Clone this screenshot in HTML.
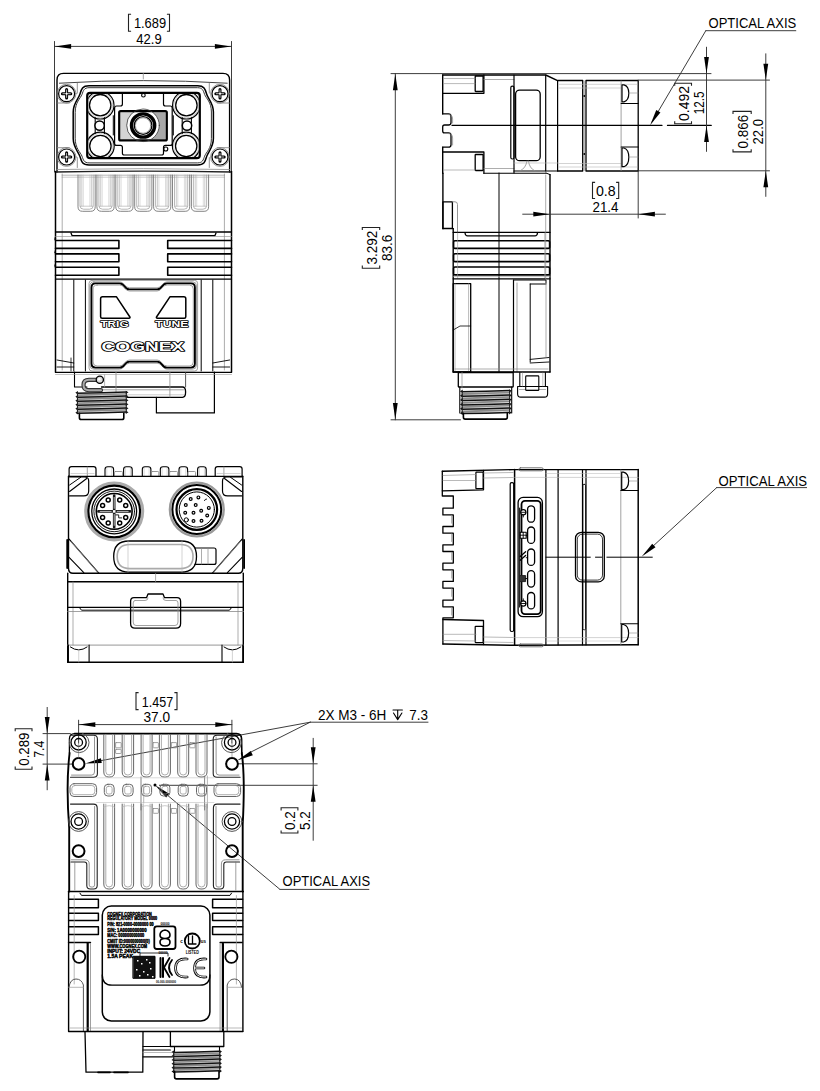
<!DOCTYPE html>
<html><head><meta charset="utf-8"><style>
html,body{margin:0;padding:0;background:#fff;}
body{width:820px;height:1091px;overflow:hidden;}
svg{display:block;font-family:"Liberation Sans",sans-serif;}
</style></head><body>
<svg width="820" height="1091" viewBox="0 0 820 1091" stroke-linecap="round" stroke-linejoin="round">
<rect width="820" height="1091" fill="#fff"/>
<line x1="54.5" y1="41.5" x2="54.5" y2="172" stroke="#333" stroke-width="0.95" />
<line x1="231.5" y1="41.5" x2="231.5" y2="172" stroke="#333" stroke-width="0.95" />
<line x1="54.5" y1="46.4" x2="231.5" y2="46.4" stroke="#333" stroke-width="0.95" />
<path d="M54.80,46.40 L71.10,44.00 L71.10,48.80 Z" fill="#000"/>
<path d="M231.20,46.40 L214.90,48.80 L214.90,44.00 Z" fill="#000"/>
<text x="150.00" y="28.40" font-size="14.8" text-anchor="middle" textLength="32.20" lengthAdjust="spacingAndGlyphs" fill="#000">1.689</text>
<path d="M131.1,14.3 L128.5,14.3 L128.5,31.3 L131.1,31.3 M166.9,14.3 L169.5,14.3 L169.5,31.3 L166.9,31.3" fill="none" stroke="#222" stroke-width="1.1" stroke-linecap="butt" stroke-linejoin="miter"/>
<text x="149.00" y="43.50" font-size="14.8" text-anchor="middle" textLength="25.40" lengthAdjust="spacingAndGlyphs" fill="#000">42.9</text>
<path d="M57,172 L57,80 Q57,73.4 63.5,73.4 L223,73.4 Q229.6,73.4 229.6,80 L229.6,172" fill="none" stroke="#000" stroke-width="1.4" />
<path d="M59.4,83.2 Q143.3,78 227.2,83.2" fill="none" stroke="#444" stroke-width="1.0" />
<line x1="143.3" y1="73.4" x2="143.3" y2="79" stroke="#8a8a8a" stroke-width="0.8" />
<path d="M55.5,172 Q143.3,170.2 231.5,172" fill="none" stroke="#222" stroke-width="1.3" />
<path d="M57,169.5 Q143.3,167.8 229.6,169.5" fill="none" stroke="#8a8a8a" stroke-width="0.8" />
<line x1="77.3" y1="83.2" x2="77.3" y2="93.10000000000001" stroke="#777" stroke-width="0.8" />
<line x1="57.199999999999996" y1="103.0" x2="69.3" y2="103.0" stroke="#777" stroke-width="0.8" />
<circle cx="66.6" cy="93.7" r="9.4" fill="none" stroke="#777" stroke-width="0.8" />
<circle cx="66.6" cy="93.7" r="8.0" fill="#fff" stroke="#000" stroke-width="1.2" />
<path d="M62.39999999999999,93.7 h8.4 M66.6,89.5 v8.4" fill="none" stroke="#000" stroke-width="3.0" />
<path d="M62.89999999999999,93.7 h7.4 M66.6,90.0 v7.4" fill="none" stroke="#fff" stroke-width="0.7" />
<circle cx="66.6" cy="93.7" r="0.9" fill="#fff" stroke="#000" stroke-width="0" />
<line x1="77.3" y1="167.5" x2="77.3" y2="157.6" stroke="#777" stroke-width="0.8" />
<line x1="57.199999999999996" y1="147.7" x2="69.3" y2="147.7" stroke="#777" stroke-width="0.8" />
<circle cx="66.6" cy="157.0" r="9.4" fill="none" stroke="#777" stroke-width="0.8" />
<circle cx="66.6" cy="157.0" r="8.0" fill="#fff" stroke="#000" stroke-width="1.2" />
<path d="M62.39999999999999,157.0 h8.4 M66.6,152.8 v8.4" fill="none" stroke="#000" stroke-width="3.0" />
<path d="M62.89999999999999,157.0 h7.4 M66.6,153.3 v7.4" fill="none" stroke="#fff" stroke-width="0.7" />
<circle cx="66.6" cy="157.0" r="0.9" fill="#fff" stroke="#000" stroke-width="0" />
<line x1="209.3" y1="83.2" x2="209.3" y2="93.10000000000001" stroke="#777" stroke-width="0.8" />
<line x1="229.4" y1="103.0" x2="217.3" y2="103.0" stroke="#777" stroke-width="0.8" />
<circle cx="220.0" cy="93.7" r="9.4" fill="none" stroke="#777" stroke-width="0.8" />
<circle cx="220.0" cy="93.7" r="8.0" fill="#fff" stroke="#000" stroke-width="1.2" />
<path d="M215.8,93.7 h8.4 M220.0,89.5 v8.4" fill="none" stroke="#000" stroke-width="3.0" />
<path d="M216.3,93.7 h7.4 M220.0,90.0 v7.4" fill="none" stroke="#fff" stroke-width="0.7" />
<circle cx="220.0" cy="93.7" r="0.9" fill="#fff" stroke="#000" stroke-width="0" />
<line x1="209.3" y1="167.5" x2="209.3" y2="157.6" stroke="#777" stroke-width="0.8" />
<line x1="229.4" y1="147.7" x2="217.3" y2="147.7" stroke="#777" stroke-width="0.8" />
<circle cx="220.0" cy="157.0" r="9.4" fill="none" stroke="#777" stroke-width="0.8" />
<circle cx="220.0" cy="157.0" r="8.0" fill="#fff" stroke="#000" stroke-width="1.2" />
<path d="M215.8,157.0 h8.4 M220.0,152.8 v8.4" fill="none" stroke="#000" stroke-width="3.0" />
<path d="M216.3,157.0 h7.4 M220.0,153.3 v7.4" fill="none" stroke="#fff" stroke-width="0.7" />
<circle cx="220.0" cy="157.0" r="0.9" fill="#fff" stroke="#000" stroke-width="0" />
<path d="M73.2,112 C73.2,103.0 78.5,99.0 80.0,94.0 C81.3,89.5 82.0,85.7 89.0,85.7 L197.6,85.7 C204.6,85.7 205.3,89.5 206.6,94.0 C208.1,99.0 213.4,103.0 213.4,112 L213.4,138.6 C213.4,147.6 208.1,151.6 206.6,156.6 C205.3,161.1 204.6,164.9 197.6,164.9 L89.0,164.9 C82.0,164.9 81.3,161.1 80.0,156.6 C78.5,151.6 73.2,147.6 73.2,138.6 Z" fill="none" stroke="#000" stroke-width="1.5" />
<path d="M75.2,112 C75.2,102.0 80.5,98.4 82.0,94.4 C83.3,90.7 84.0,87.7 89.0,87.7 L197.6,87.7 C202.6,87.7 203.3,90.7 204.6,94.4 C206.1,98.4 211.4,102.0 211.4,112 L211.4,138.6 C211.4,148.6 206.1,152.2 204.6,156.2 C203.3,159.9 202.6,162.9 197.6,162.9 L89.0,162.9 C84.0,162.9 83.3,159.9 82.0,156.2 C80.5,152.2 75.2,148.6 75.2,138.6 Z" fill="none" stroke="#333" stroke-width="1.0" />
<rect x="87.2" y="92.9" width="112.6" height="65.3" rx="3" fill="none" stroke="#000" stroke-width="2.2" />
<defs><clipPath id="win"><rect x="88.3" y="94" width="110.4" height="63.1" rx="2"/></clipPath></defs>
<g clip-path="url(#win)">
<circle cx="100.2" cy="105.2" r="13.8" fill="none" stroke="#000" stroke-width="1.2" />
<circle cx="100.2" cy="105.2" r="12.7" fill="none" stroke="#999" stroke-width="0.5" />
<circle cx="100.4" cy="146" r="13.8" fill="none" stroke="#000" stroke-width="1.2" />
<circle cx="100.4" cy="146" r="12.7" fill="none" stroke="#999" stroke-width="0.5" />
<circle cx="186.4" cy="105.2" r="13.8" fill="none" stroke="#000" stroke-width="1.2" />
<circle cx="186.4" cy="105.2" r="12.7" fill="none" stroke="#999" stroke-width="0.5" />
<circle cx="186.2" cy="146" r="13.8" fill="none" stroke="#000" stroke-width="1.2" />
<circle cx="186.2" cy="146" r="12.7" fill="none" stroke="#999" stroke-width="0.5" />
<path d="M95.2,117.5 L95.2,133.5 M104.39999999999999,117.5 L104.39999999999999,133.5" fill="none" stroke="#000" stroke-width="1.1" />
<path d="M182.20000000000002,117.5 L182.20000000000002,133.5 M191.4,117.5 L191.4,133.5" fill="none" stroke="#000" stroke-width="1.1" />
</g>
<circle cx="100.2" cy="105.2" r="10.7" fill="#fff" stroke="#000" stroke-width="1.3" />
<circle cx="100.4" cy="146" r="10.7" fill="#fff" stroke="#000" stroke-width="1.3" />
<circle cx="186.4" cy="105.2" r="10.7" fill="#fff" stroke="#000" stroke-width="1.3" />
<circle cx="186.2" cy="146" r="10.7" fill="#fff" stroke="#000" stroke-width="1.3" />
<circle cx="99.6" cy="125.6" r="4.7" fill="#fff" stroke="#000" stroke-width="1.5" />
<circle cx="187.0" cy="125.6" r="4.7" fill="#fff" stroke="#000" stroke-width="1.5" />
<line x1="113.3" y1="115.7" x2="113.3" y2="135" stroke="#000" stroke-width="1.0" />
<line x1="173.3" y1="115.7" x2="173.3" y2="135" stroke="#000" stroke-width="1.0" />
<path d="M122.4,93.7 L122.4,104 Q122.4,106 120.4,106 L116.6,106 Q114.6,106 114.6,108 L114.6,143.4 Q114.6,145.4 116.6,145.4 L120.4,145.4 Q122.4,145.4 122.4,147.4 L122.4,153.2 Q122.4,155 124.4,155 L161.5,155 Q163.5,155 163.5,153.2 L163.5,147.4 Q163.5,145.4 165.5,145.4 L170.2,145.4 Q172.2,145.4 172.2,143.4 L172.2,108 Q172.2,106 170.2,106 L165.5,106 Q163.5,106 163.5,104 L163.5,93.7" fill="none" stroke="#000" stroke-width="1.2" />
<circle cx="143.4" cy="95.2" r="1.8" fill="none" stroke="#000" stroke-width="1.1" />
<circle cx="165.8" cy="149" r="2.0" fill="none" stroke="#000" stroke-width="1.1" />
<path d="M120.3,112.2 L133.30,112.20 L130.83,114.46 L129.14,116.72 L127.98,118.98 L127.22,121.23 L126.80,123.49 L126.71,125.75 L126.93,128.01 L127.48,130.27 L128.39,132.53 L129.74,134.78 L131.69,137.04 L134.65,139.30 L120.3,139.3 Z" fill="#d4d4d4" stroke="none" stroke-width="0" />
<path d="M165.7,112.2 L152.70,112.20 L155.17,114.46 L156.86,116.72 L158.02,118.98 L158.78,121.23 L159.20,123.49 L159.29,125.75 L159.07,128.01 L158.52,130.27 L157.61,132.53 L156.26,134.78 L154.31,137.04 L151.35,139.30 L165.7,139.3 Z" fill="#a8a8a8" stroke="none" stroke-width="0" />
<rect x="119.2" y="111.1" width="47.6" height="29.3" rx="1.5" fill="none" stroke="#000" stroke-width="2.2" />
<circle cx="143" cy="125.3" r="16.3" fill="none" stroke="#333" stroke-width="0.8" />
<circle cx="143.1" cy="125.5" r="11.6" fill="none" stroke="#000" stroke-width="3.4" />
<circle cx="143.1" cy="125.5" r="8.8" fill="none" stroke="#000" stroke-width="1.3" />
<circle cx="143.1" cy="125.5" r="7.7" fill="none" stroke="#777" stroke-width="0.6" />
<line x1="62" y1="175.2" x2="224.6" y2="175.2" stroke="#999" stroke-width="0.7" />
<line x1="62" y1="177.2" x2="224.6" y2="177.2" stroke="#aaa" stroke-width="0.6" />
<path d="M78.0,175 L78.0,206.8 Q78.0,211.3 82.5,211.3 L90.69999999999999,211.3 Q95.19999999999999,211.3 95.19999999999999,206.8 L95.19999999999999,175" fill="none" stroke="#777" stroke-width="0.9" />
<path d="M80.0,175 L80.0,205.6 Q80.0,209.2 83.6,209.2 L89.6,209.2 Q93.19999999999999,209.2 93.19999999999999,205.6 L93.19999999999999,175" fill="none" stroke="#999" stroke-width="0.7" />
<line x1="81.8" y1="175" x2="81.8" y2="206" stroke="#aaa" stroke-width="0.6" />
<line x1="91.39999999999999" y1="175" x2="91.39999999999999" y2="206" stroke="#aaa" stroke-width="0.6" />
<line x1="83.3" y1="175" x2="83.3" y2="206" stroke="#bbb" stroke-width="0.5" />
<line x1="89.89999999999999" y1="175" x2="89.89999999999999" y2="206" stroke="#bbb" stroke-width="0.5" />
<line x1="80.0" y1="206.2" x2="93.19999999999999" y2="206.2" stroke="#aaa" stroke-width="0.6" />
<path d="M96.9,175 L96.9,206.8 Q96.9,211.3 101.4,211.3 L109.6,211.3 Q114.1,211.3 114.1,206.8 L114.1,175" fill="none" stroke="#777" stroke-width="0.9" />
<path d="M98.9,175 L98.9,205.6 Q98.9,209.2 102.5,209.2 L108.5,209.2 Q112.1,209.2 112.1,205.6 L112.1,175" fill="none" stroke="#999" stroke-width="0.7" />
<line x1="100.7" y1="175" x2="100.7" y2="206" stroke="#aaa" stroke-width="0.6" />
<line x1="110.3" y1="175" x2="110.3" y2="206" stroke="#aaa" stroke-width="0.6" />
<line x1="102.2" y1="175" x2="102.2" y2="206" stroke="#bbb" stroke-width="0.5" />
<line x1="108.8" y1="175" x2="108.8" y2="206" stroke="#bbb" stroke-width="0.5" />
<line x1="98.9" y1="206.2" x2="112.1" y2="206.2" stroke="#aaa" stroke-width="0.6" />
<path d="M115.80000000000001,175 L115.80000000000001,206.8 Q115.80000000000001,211.3 120.30000000000001,211.3 L128.5,211.3 Q133.0,211.3 133.0,206.8 L133.0,175" fill="none" stroke="#777" stroke-width="0.9" />
<path d="M117.80000000000001,175 L117.80000000000001,205.6 Q117.80000000000001,209.2 121.4,209.2 L127.4,209.2 Q131.0,209.2 131.0,205.6 L131.0,175" fill="none" stroke="#999" stroke-width="0.7" />
<line x1="119.60000000000001" y1="175" x2="119.60000000000001" y2="206" stroke="#aaa" stroke-width="0.6" />
<line x1="129.20000000000002" y1="175" x2="129.20000000000002" y2="206" stroke="#aaa" stroke-width="0.6" />
<line x1="121.10000000000001" y1="175" x2="121.10000000000001" y2="206" stroke="#bbb" stroke-width="0.5" />
<line x1="127.7" y1="175" x2="127.7" y2="206" stroke="#bbb" stroke-width="0.5" />
<line x1="117.80000000000001" y1="206.2" x2="131.0" y2="206.2" stroke="#aaa" stroke-width="0.6" />
<path d="M134.70000000000002,175 L134.70000000000002,206.8 Q134.70000000000002,211.3 139.20000000000002,211.3 L147.4,211.3 Q151.9,211.3 151.9,206.8 L151.9,175" fill="none" stroke="#777" stroke-width="0.9" />
<path d="M136.70000000000002,175 L136.70000000000002,205.6 Q136.70000000000002,209.2 140.3,209.2 L146.3,209.2 Q149.9,209.2 149.9,205.6 L149.9,175" fill="none" stroke="#999" stroke-width="0.7" />
<line x1="138.5" y1="175" x2="138.5" y2="206" stroke="#aaa" stroke-width="0.6" />
<line x1="148.10000000000002" y1="175" x2="148.10000000000002" y2="206" stroke="#aaa" stroke-width="0.6" />
<line x1="140.0" y1="175" x2="140.0" y2="206" stroke="#bbb" stroke-width="0.5" />
<line x1="146.60000000000002" y1="175" x2="146.60000000000002" y2="206" stroke="#bbb" stroke-width="0.5" />
<line x1="136.70000000000002" y1="206.2" x2="149.9" y2="206.2" stroke="#aaa" stroke-width="0.6" />
<path d="M153.6,175 L153.6,206.8 Q153.6,211.3 158.1,211.3 L166.29999999999998,211.3 Q170.79999999999998,211.3 170.79999999999998,206.8 L170.79999999999998,175" fill="none" stroke="#777" stroke-width="0.9" />
<path d="M155.6,175 L155.6,205.6 Q155.6,209.2 159.2,209.2 L165.2,209.2 Q168.79999999999998,209.2 168.79999999999998,205.6 L168.79999999999998,175" fill="none" stroke="#999" stroke-width="0.7" />
<line x1="157.39999999999998" y1="175" x2="157.39999999999998" y2="206" stroke="#aaa" stroke-width="0.6" />
<line x1="167.0" y1="175" x2="167.0" y2="206" stroke="#aaa" stroke-width="0.6" />
<line x1="158.89999999999998" y1="175" x2="158.89999999999998" y2="206" stroke="#bbb" stroke-width="0.5" />
<line x1="165.5" y1="175" x2="165.5" y2="206" stroke="#bbb" stroke-width="0.5" />
<line x1="155.6" y1="206.2" x2="168.79999999999998" y2="206.2" stroke="#aaa" stroke-width="0.6" />
<path d="M172.5,175 L172.5,206.8 Q172.5,211.3 177.0,211.3 L185.2,211.3 Q189.7,211.3 189.7,206.8 L189.7,175" fill="none" stroke="#777" stroke-width="0.9" />
<path d="M174.5,175 L174.5,205.6 Q174.5,209.2 178.1,209.2 L184.1,209.2 Q187.7,209.2 187.7,205.6 L187.7,175" fill="none" stroke="#999" stroke-width="0.7" />
<line x1="176.29999999999998" y1="175" x2="176.29999999999998" y2="206" stroke="#aaa" stroke-width="0.6" />
<line x1="185.9" y1="175" x2="185.9" y2="206" stroke="#aaa" stroke-width="0.6" />
<line x1="177.79999999999998" y1="175" x2="177.79999999999998" y2="206" stroke="#bbb" stroke-width="0.5" />
<line x1="184.4" y1="175" x2="184.4" y2="206" stroke="#bbb" stroke-width="0.5" />
<line x1="174.5" y1="206.2" x2="187.7" y2="206.2" stroke="#aaa" stroke-width="0.6" />
<path d="M191.4,175 L191.4,206.8 Q191.4,211.3 195.9,211.3 L204.1,211.3 Q208.6,211.3 208.6,206.8 L208.6,175" fill="none" stroke="#777" stroke-width="0.9" />
<path d="M193.4,175 L193.4,205.6 Q193.4,209.2 197.0,209.2 L203.0,209.2 Q206.6,209.2 206.6,205.6 L206.6,175" fill="none" stroke="#999" stroke-width="0.7" />
<line x1="195.2" y1="175" x2="195.2" y2="206" stroke="#aaa" stroke-width="0.6" />
<line x1="204.8" y1="175" x2="204.8" y2="206" stroke="#aaa" stroke-width="0.6" />
<line x1="196.7" y1="175" x2="196.7" y2="206" stroke="#bbb" stroke-width="0.5" />
<line x1="203.3" y1="175" x2="203.3" y2="206" stroke="#bbb" stroke-width="0.5" />
<line x1="193.4" y1="206.2" x2="206.6" y2="206.2" stroke="#aaa" stroke-width="0.6" />
<line x1="55.5" y1="171.5" x2="55.5" y2="372" stroke="#000" stroke-width="1.5" />
<line x1="231.5" y1="171.5" x2="231.5" y2="372" stroke="#000" stroke-width="1.5" />
<line x1="62.2" y1="174" x2="62.2" y2="370" stroke="#8a8a8a" stroke-width="0.7" />
<line x1="224.4" y1="174" x2="224.4" y2="370" stroke="#8a8a8a" stroke-width="0.7" />
<line x1="55.5" y1="232" x2="231.5" y2="232" stroke="#000" stroke-width="1.3" />
<path d="M71,233 L72,235.6 L215,235.6 L216,233" fill="none" stroke="#000" stroke-width="1.3" />
<path d="M55.5,240.5 L118.9,240.5 L118.9,248.4 L55.5,248.4" fill="none" stroke="#000" stroke-width="1.6" />
<path d="M231.5,240.5 L167.7,240.5 L167.7,248.4 L231.5,248.4" fill="none" stroke="#000" stroke-width="1.6" />
<path d="M55.5,239.0 Q53.5,241.45 55.5,236.5" fill="none" stroke="#000" stroke-width="0.8" />
<path d="M55.5,253.9 L118.9,253.9 L118.9,261.8 L55.5,261.8" fill="none" stroke="#000" stroke-width="1.6" />
<path d="M231.5,253.9 L167.7,253.9 L167.7,261.8 L231.5,261.8" fill="none" stroke="#000" stroke-width="1.6" />
<path d="M55.5,252.4 Q53.5,254.85000000000002 55.5,249.9" fill="none" stroke="#000" stroke-width="0.8" />
<path d="M55.5,267.3 L118.9,267.3 L118.9,275.2 L55.5,275.2" fill="none" stroke="#000" stroke-width="1.6" />
<path d="M231.5,267.3 L167.7,267.3 L167.7,275.2 L231.5,275.2" fill="none" stroke="#000" stroke-width="1.6" />
<path d="M55.5,265.8 Q53.5,268.25 55.5,263.3" fill="none" stroke="#000" stroke-width="0.8" />
<line x1="55.5" y1="279.1" x2="231.5" y2="279.1" stroke="#000" stroke-width="1.4" />
<line x1="55.5" y1="236.5" x2="231.5" y2="236.5" stroke="#8a8a8a" stroke-width="0.6" />
<line x1="73.8" y1="280" x2="73.8" y2="371" stroke="#000" stroke-width="1.0" />
<line x1="212.8" y1="280" x2="212.8" y2="371" stroke="#000" stroke-width="1.0" />
<line x1="85.4" y1="280" x2="85.4" y2="371" stroke="#000" stroke-width="1.0" />
<line x1="201.2" y1="280" x2="201.2" y2="371" stroke="#000" stroke-width="1.0" />
<line x1="71" y1="358" x2="71" y2="371" stroke="#000" stroke-width="0.8" />
<path d="M57,360 L73.8,363 M57,367 L73.8,367" fill="none" stroke="#000" stroke-width="0.9" />
<path d="M229.6,360 L212.8,363 M229.6,367 L212.8,367" fill="none" stroke="#000" stroke-width="0.9" />
<path d="M92,280.4 L194.6,280.4 Q197.6,280.4 197.6,283.4 L197.6,368 Q197.6,371 194.6,371 L92,371 Q89,371 89,368 L89,283.4 Q89,280.4 92,280.4 Z" fill="none" stroke="#8a8a8a" stroke-width="0.8" />
<path d="M93.9,281.79999999999995 L119.5,281.79999999999995 Q122.5,281.79999999999995 124.5,284.79999999999995 Q126.5,287.79999999999995 129.5,287.79999999999995 L157.1,287.79999999999995 Q160.1,287.79999999999995 162.1,284.79999999999995 Q164.1,281.79999999999995 167.1,281.79999999999995 L192.5,281.79999999999995 Q196.5,281.79999999999995 196.5,285.79999999999995 L196.5,365.20000000000005 Q196.5,369.20000000000005 192.5,369.20000000000005 L167.1,369.20000000000005 Q164.1,369.20000000000005 162.1,366.20000000000005 Q160.1,363.20000000000005 157.1,363.20000000000005 L129.5,363.20000000000005 Q126.5,363.20000000000005 124.5,366.20000000000005 Q122.5,369.20000000000005 119.5,369.20000000000005 L93.9,369.20000000000005 Q89.9,369.20000000000005 89.9,365.20000000000005 L89.9,285.79999999999995 Q89.9,281.79999999999995 93.9,281.79999999999995 Z" fill="none" stroke="#8a8a8a" stroke-width="0.8" />
<path d="M95.5,283.4 L119.5,283.4 Q122.5,283.4 124.5,286.4 Q126.5,289.4 129.5,289.4 L157.1,289.4 Q160.1,289.4 162.1,286.4 Q164.1,283.4 167.1,283.4 L190.9,283.4 Q194.9,283.4 194.9,287.4 L194.9,363.6 Q194.9,367.6 190.9,367.6 L167.1,367.6 Q164.1,367.6 162.1,364.6 Q160.1,361.6 157.1,361.6 L129.5,361.6 Q126.5,361.6 124.5,364.6 Q122.5,367.6 119.5,367.6 L95.5,367.6 Q91.5,367.6 91.5,363.6 L91.5,287.4 Q91.5,283.4 95.5,283.4 Z" fill="none" stroke="#000" stroke-width="1.9" />
<path d="M97.1,285.0 L119.5,285.0 Q122.5,285.0 124.5,288.0 Q126.5,291.0 129.5,291.0 L157.1,291.0 Q160.1,291.0 162.1,288.0 Q164.1,285.0 167.1,285.0 L189.3,285.0 Q193.3,285.0 193.3,289.0 L193.3,362.0 Q193.3,366.0 189.3,366.0 L167.1,366.0 Q164.1,366.0 162.1,363.0 Q160.1,360.0 157.1,360.0 L129.5,360.0 Q126.5,360.0 124.5,363.0 Q122.5,366.0 119.5,366.0 L97.1,366.0 Q93.1,366.0 93.1,362.0 L93.1,289.0 Q93.1,285.0 97.1,285.0 Z" fill="none" stroke="#8a8a8a" stroke-width="0.8" />
<path d="M102.6,296.8 L116.5,296.8 L129.9,317 Q130.4,318.2 129,318.2 L102.1,318.2 Q100.6,318.2 100.6,316.7 L100.6,298.8 Q100.6,296.8 102.6,296.8 Z" fill="none" stroke="#000" stroke-width="1.5" />
<path d="M183.8,296.8 L169.9,296.8 L156.5,317 Q156,318.2 157.4,318.2 L184.3,318.2 Q185.8,318.2 185.8,316.7 L185.8,298.8 Q185.8,296.8 183.8,296.8 Z" fill="none" stroke="#000" stroke-width="1.5" />
<g font-family="Liberation Sans, sans-serif" fill="#000" stroke="#000" stroke-width="1.5">
<text x="114.5" y="327.2" font-size="9.0" text-anchor="middle" font-weight="bold" textLength="28.2" lengthAdjust="spacingAndGlyphs" >TRIG</text>
<text x="171.8" y="327.2" font-size="9.0" text-anchor="middle" font-weight="bold" textLength="33.1" lengthAdjust="spacingAndGlyphs" >TUNE</text>
<text x="142.85" y="350.6" font-size="13.2" text-anchor="middle" font-weight="bold" textLength="82.5" lengthAdjust="spacingAndGlyphs" stroke-width="1.7">COGNEX</text>
</g>
<g font-family="Liberation Sans, sans-serif" fill="#fff" stroke="none">
<text x="114.5" y="327.2" font-size="9.0" text-anchor="middle" font-weight="bold" textLength="28.2" lengthAdjust="spacingAndGlyphs" >TRIG</text>
<text x="171.8" y="327.2" font-size="9.0" text-anchor="middle" font-weight="bold" textLength="33.1" lengthAdjust="spacingAndGlyphs" >TUNE</text>
<text x="142.85" y="350.6" font-size="13.2" text-anchor="middle" font-weight="bold" textLength="82.5" lengthAdjust="spacingAndGlyphs" >COGNEX</text>
</g>
<line x1="55.5" y1="372.4" x2="231.5" y2="372.4" stroke="#000" stroke-width="1.3" />
<path d="M74.5,372 L74.5,387 L87,387" fill="none" stroke="#000" stroke-width="1.1" />
<path d="M101.5,387 L182.5,387 Q185.6,387 185.6,392 Q185.6,397.3 182.5,397.3 L101.5,397.3" fill="none" stroke="#000" stroke-width="1.3" />
<line x1="101.5" y1="389.8" x2="183.5" y2="389.8" stroke="#888" stroke-width="0.8" />
<line x1="101.5" y1="394.8" x2="183.5" y2="394.8" stroke="#aaa" stroke-width="0.6" />
<line x1="116" y1="372" x2="116" y2="397" stroke="#8a8a8a" stroke-width="0.8" />
<line x1="169.9" y1="372" x2="169.9" y2="397" stroke="#8a8a8a" stroke-width="0.8" />
<path d="M156.4,397.3 L156.4,412.9 L214.4,412.9 L214.4,372" fill="none" stroke="#000" stroke-width="1.2" />
<line x1="185.6" y1="372.8" x2="185.6" y2="387" stroke="#555" stroke-width="1.0" />
<line x1="55.5" y1="374.5" x2="231.5" y2="374.5" stroke="#999" stroke-width="0.6" />
<line x1="104.6" y1="375" x2="104.6" y2="387" stroke="#999" stroke-width="0.7" />
<path d="M99.5,379.8 L89,379.8 Q83.5,379.8 83.5,385 Q83.5,390.2 89,390.2 L101,390.2" fill="none" stroke="#333" stroke-width="4.2" />
<path d="M99.5,379.8 L89,379.8 Q83.5,379.8 83.5,385 Q83.5,390.2 89,390.2 L101,390.2" fill="none" stroke="#aaa" stroke-width="2.0" />
<circle cx="99.8" cy="379.8" r="3.6" fill="#ddd" stroke="#000" stroke-width="1.3" />
<circle cx="99.3" cy="379.3" r="1.2" fill="#fff" stroke="#000" stroke-width="0" />
<path d="M79.4,412.8 L79.4,417.7 Q79.4,419.5 81.2,419.5 L122,419.5 Q123.8,419.5 123.8,417.7 L123.8,412.8" fill="none" stroke="#000" stroke-width="1.6" />
<rect x="77.5" y="392.6" width="48.80" height="20.00" fill="#d8d8d8"/>
<path d="M77.5,395.20 Q101.90,394.40 126.3,393.60" fill="none" stroke="#8a8a8a" stroke-width="1.8" />
<path d="M77.5,393.80 Q101.90,393.20 126.3,392.80" fill="none" stroke="#f0f0f0" stroke-width="0.7" />
<path d="M77.5,399.20 Q101.90,398.40 126.3,397.60" fill="none" stroke="#8a8a8a" stroke-width="1.8" />
<path d="M77.5,397.80 Q101.90,397.20 126.3,396.80" fill="none" stroke="#f0f0f0" stroke-width="0.7" />
<path d="M77.5,403.20 Q101.90,402.40 126.3,401.60" fill="none" stroke="#8a8a8a" stroke-width="1.8" />
<path d="M77.5,401.80 Q101.90,401.20 126.3,400.80" fill="none" stroke="#f0f0f0" stroke-width="0.7" />
<path d="M77.5,407.20 Q101.90,406.40 126.3,405.60" fill="none" stroke="#8a8a8a" stroke-width="1.8" />
<path d="M77.5,405.80 Q101.90,405.20 126.3,404.80" fill="none" stroke="#f0f0f0" stroke-width="0.7" />
<path d="M77.5,411.20 Q101.90,410.40 126.3,409.60" fill="none" stroke="#8a8a8a" stroke-width="1.8" />
<path d="M77.5,409.80 Q101.90,409.20 126.3,408.80" fill="none" stroke="#f0f0f0" stroke-width="0.7" />
<path d="M77.5,393.20 Q101.90,392.90 126.3,392.00" fill="none" stroke="#111" stroke-width="1.5" />
<path d="M78.0,390.90 L75.3,392.80 L78.0,394.50 Z M125.8,390.70 L128.5,392.20 L125.8,394.10 Z" fill="#111"/>
<path d="M77.5,397.20 Q101.90,396.90 126.3,396.00" fill="none" stroke="#111" stroke-width="1.5" />
<path d="M78.0,394.90 L75.3,396.80 L78.0,398.50 Z M125.8,394.70 L128.5,396.20 L125.8,398.10 Z" fill="#111"/>
<path d="M77.5,401.20 Q101.90,400.90 126.3,400.00" fill="none" stroke="#111" stroke-width="1.5" />
<path d="M78.0,398.90 L75.3,400.80 L78.0,402.50 Z M125.8,398.70 L128.5,400.20 L125.8,402.10 Z" fill="#111"/>
<path d="M77.5,405.20 Q101.90,404.90 126.3,404.00" fill="none" stroke="#111" stroke-width="1.5" />
<path d="M78.0,402.90 L75.3,404.80 L78.0,406.50 Z M125.8,402.70 L128.5,404.20 L125.8,406.10 Z" fill="#111"/>
<path d="M77.5,409.20 Q101.90,408.90 126.3,408.00" fill="none" stroke="#111" stroke-width="1.5" />
<path d="M78.0,406.90 L75.3,408.80 L78.0,410.50 Z M125.8,406.70 L128.5,408.20 L125.8,410.10 Z" fill="#111"/>
<path d="M77.5,413.20 Q101.90,412.90 126.3,412.00" fill="none" stroke="#111" stroke-width="1.5" />
<path d="M78.0,410.90 L75.3,412.80 L78.0,414.50 Z M125.8,410.70 L128.5,412.20 L125.8,414.10 Z" fill="#111"/>
<line x1="77.5" y1="392.6" x2="77.5" y2="412.6" stroke="#222" stroke-width="1.0" />
<line x1="126.3" y1="392.6" x2="126.3" y2="412.6" stroke="#222" stroke-width="1.0" />
<line x1="391" y1="73.6" x2="711" y2="73.6" stroke="#333" stroke-width="0.95" />
<line x1="395.3" y1="73.6" x2="395.3" y2="419.8" stroke="#333" stroke-width="0.95" />
<path d="M395.30,74.00 L397.70,90.30 L392.90,90.30 Z" fill="#000"/>
<path d="M395.30,419.40 L392.90,403.10 L397.70,403.10 Z" fill="#000"/>
<line x1="391" y1="419.8" x2="460.5" y2="419.8" stroke="#333" stroke-width="0.95" />
<text x="377.00" y="247.65" font-size="14.8" text-anchor="middle" textLength="33.90" lengthAdjust="spacingAndGlyphs" transform="rotate(-90 377.00 247.65)" fill="#000">3.292</text>
<path d="M362.3,265.59999999999997 L362.3,268.2 L379.7,268.2 L379.7,265.59999999999997 M362.3,230.1 L362.3,227.5 L379.7,227.5 L379.7,230.1" fill="none" stroke="#222" stroke-width="1.1" stroke-linecap="butt" stroke-linejoin="miter"/>
<text x="392.50" y="247.90" font-size="14.8" text-anchor="middle" textLength="26.20" lengthAdjust="spacingAndGlyphs" transform="rotate(-90 392.50 247.90)" fill="#000">83.6</text>
<path d="M442.7,75 L545.7,75 L557.6,80.6" fill="none" stroke="#000" stroke-width="1.4" />
<line x1="442.7" y1="75" x2="442.7" y2="113.9" stroke="#000" stroke-width="1.4" />
<path d="M442.7,113.9 L448.5,113.9 Q451,113.9 451,116.5 L451,122.5 Q451,125 448.5,125 L444.5,125 Q442.7,125 442.7,127 L442.7,131 Q442.7,132.9 444.5,132.9 L448.5,132.9 Q451,132.9 451,135.5 L451,144.7 Q451,147.2 448.5,147.2 L442.7,147.2" fill="none" stroke="#000" stroke-width="1.3" />
<path d="M444,114.5 L448,114.5 Q452.6,114.5 452.6,119 L452.6,123" fill="none" stroke="#8a8a8a" stroke-width="0.8" />
<path d="M444,133.5 L448,133.5 Q452.6,133.5 452.6,138 L452.6,145" fill="none" stroke="#8a8a8a" stroke-width="0.8" />
<line x1="442.7" y1="147.2" x2="442.7" y2="173.3" stroke="#000" stroke-width="1.4" />
<path d="M442.7,93.3 L483.9,93.3 L483.9,75" fill="none" stroke="#000" stroke-width="1.3" />
<rect x="475.2" y="76" width="7.9" height="15.5" rx="0.5" fill="none" stroke="#000" stroke-width="1.3" />
<line x1="444" y1="78.5" x2="475" y2="78.5" stroke="#8a8a8a" stroke-width="0.6" />
<line x1="444" y1="83.6" x2="475" y2="83.6" stroke="#8a8a8a" stroke-width="0.6" />
<path d="M442.7,152 L483.9,152 L483.9,173.3" fill="none" stroke="#000" stroke-width="1.3" />
<rect x="475.2" y="154.5" width="7.9" height="16.0" rx="0.5" fill="none" stroke="#000" stroke-width="1.3" />
<line x1="444" y1="170" x2="475" y2="170" stroke="#8a8a8a" stroke-width="0.6" />
<line x1="484" y1="79.5" x2="514" y2="79.5" stroke="#8a8a8a" stroke-width="0.7" />
<line x1="484" y1="168.5" x2="514" y2="168.5" stroke="#8a8a8a" stroke-width="0.7" />
<rect x="510.8" y="86.2" width="3.2" height="72.8" rx="1.5" fill="none" stroke="#000" stroke-width="1.2" />
<line x1="514" y1="75" x2="514" y2="173" stroke="#000" stroke-width="1.2" />
<rect x="515.6" y="90.1" width="24.6" height="70.6" rx="4" fill="none" stroke="#000" stroke-width="1.3" />
<line x1="545.7" y1="75" x2="545.7" y2="171" stroke="#000" stroke-width="1.2" />
<line x1="557.6" y1="80.6" x2="557.6" y2="171" stroke="#000" stroke-width="1.2" />
<line x1="514" y1="171" x2="557.6" y2="171" stroke="#000" stroke-width="1.1" />
<path d="M520,171 Q526,168 527,161 M535,171 Q529,168 528.5,161" fill="none" stroke="#8a8a8a" stroke-width="0.8" />
<line x1="514" y1="163" x2="557.6" y2="163" stroke="#b5b5b5" stroke-width="0.6" />
<path d="M557.9,80.5 L582.7,80.5 L582.7,171 L557.9,171" fill="none" stroke="#000" stroke-width="1.3" />
<path d="M586,80.5 L638.2,80.5 L638.2,171 L586,171 Z" fill="none" stroke="#000" stroke-width="1.3" />
<line x1="584.3" y1="81" x2="584.3" y2="170.5" stroke="#8a8a8a" stroke-width="0.7" />
<circle cx="584.3" cy="96" r="0.9" fill="#000" stroke="#000" stroke-width="0" />
<circle cx="584.3" cy="154" r="0.9" fill="#000" stroke="#000" stroke-width="0" />
<line x1="559" y1="84.3" x2="637" y2="84.3" stroke="#b5b5b5" stroke-width="0.6" />
<line x1="559" y1="88" x2="621" y2="88" stroke="#b5b5b5" stroke-width="0.6" />
<line x1="559" y1="167" x2="637" y2="167" stroke="#b5b5b5" stroke-width="0.6" />
<line x1="559" y1="163.5" x2="621" y2="163.5" stroke="#b5b5b5" stroke-width="0.6" />
<line x1="621.1" y1="81" x2="621.1" y2="170.5" stroke="#8a8a8a" stroke-width="0.8" />
<path d="M622,84.8 L624,84.8 Q628.8,86 628.8,93.3 Q628.8,100.6 624,101.8 L622,101.8 Z" fill="none" stroke="#000" stroke-width="1.2" />
<path d="M622,148 L624,148 Q628.8,149.5 628.8,157.3 Q628.8,165.2 624,166.7 L622,166.7 Z" fill="none" stroke="#000" stroke-width="1.2" />
<line x1="621.1" y1="103.5" x2="638.2" y2="103.5" stroke="#000" stroke-width="1.1" />
<line x1="621.1" y1="147" x2="638.2" y2="147" stroke="#000" stroke-width="1.1" />
<line x1="629" y1="93" x2="638" y2="93" stroke="#8a8a8a" stroke-width="0.6" />
<line x1="629" y1="157" x2="638" y2="157" stroke="#8a8a8a" stroke-width="0.6" />
<line x1="452" y1="125.4" x2="662" y2="125.4" stroke="#000" stroke-width="1.1" />
<line x1="667.4" y1="125.4" x2="711.3" y2="125.4" stroke="#000" stroke-width="1.1" />
<line x1="638.2" y1="80.1" x2="769.5" y2="80.1" stroke="#333" stroke-width="0.95" />
<line x1="638.2" y1="170.8" x2="769.5" y2="170.8" stroke="#333" stroke-width="0.95" />
<line x1="706.5" y1="47.2" x2="706.5" y2="151.4" stroke="#333" stroke-width="0.95" />
<path d="M706.50,73.40 L704.10,57.10 L708.90,57.10 Z" fill="#000"/>
<path d="M706.50,125.60 L708.90,141.90 L704.10,141.90 Z" fill="#000"/>
<text x="688.80" y="103.45" font-size="14.8" text-anchor="middle" textLength="34.90" lengthAdjust="spacingAndGlyphs" transform="rotate(-90 688.80 103.45)" fill="#000">0.492</text>
<path d="M674.7,121.2 L674.7,123.8 L691.5,123.8 L691.5,121.2 M674.7,85.8 L674.7,83.2 L691.5,83.2 L691.5,85.8" fill="none" stroke="#222" stroke-width="1.1" stroke-linecap="butt" stroke-linejoin="miter"/>
<text x="704.20" y="102.80" font-size="14.8" text-anchor="middle" textLength="22.80" lengthAdjust="spacingAndGlyphs" transform="rotate(-90 704.20 102.80)" fill="#000">12.5</text>
<line x1="765.8" y1="53.8" x2="765.8" y2="196.4" stroke="#333" stroke-width="0.95" />
<path d="M765.80,80.00 L763.40,63.70 L768.20,63.70 Z" fill="#000"/>
<path d="M765.80,171.00 L768.20,187.30 L763.40,187.30 Z" fill="#000"/>
<text x="747.80" y="131.65" font-size="14.8" text-anchor="middle" textLength="33.50" lengthAdjust="spacingAndGlyphs" transform="rotate(-90 747.80 131.65)" fill="#000">0.866</text>
<path d="M733,149.3 L733,151.9 L751.2,151.9 L751.2,149.3 M733,114.0 L733,111.4 L751.2,111.4 L751.2,114.0" fill="none" stroke="#222" stroke-width="1.1" stroke-linecap="butt" stroke-linejoin="miter"/>
<text x="763.20" y="131.65" font-size="14.8" text-anchor="middle" textLength="25.50" lengthAdjust="spacingAndGlyphs" transform="rotate(-90 763.20 131.65)" fill="#000">22.0</text>
<text x="752.40" y="28.10" font-size="14.4" text-anchor="middle" textLength="87.80" lengthAdjust="spacingAndGlyphs" fill="#000">OPTICAL AXIS</text>
<line x1="705.8" y1="30.7" x2="795.8" y2="30.7" stroke="#333" stroke-width="0.95" />
<line x1="705.8" y1="30.7" x2="652" y2="122" stroke="#333" stroke-width="0.95" />
<path d="M650.10,125.30 L656.28,110.03 L660.42,112.46 Z" fill="#000"/>
<line x1="442.9" y1="173.3" x2="442.9" y2="228.8" stroke="#000" stroke-width="1.4" />
<rect x="442.9" y="201.8" width="9.5" height="26.6" rx="0" fill="none" stroke="#000" stroke-width="1.3" />
<path d="M452.4,201.8 L455,201.8 Q457.5,201.8 457.5,204.5 L457.5,232" fill="none" stroke="#8a8a8a" stroke-width="0.9" />
<line x1="442.9" y1="228.6" x2="453.2" y2="228.6" stroke="#000" stroke-width="1.3" />
<line x1="453.2" y1="228.6" x2="453.2" y2="372" stroke="#000" stroke-width="1.4" />
<line x1="550" y1="174.6" x2="550" y2="372" stroke="#000" stroke-width="1.4" />
<line x1="546" y1="173" x2="550" y2="174.6" stroke="#000" stroke-width="1.0" />
<line x1="499" y1="173" x2="499" y2="372" stroke="#000" stroke-width="1.0" />
<line x1="483.9" y1="173.3" x2="546" y2="173.3" stroke="#000" stroke-width="1.1" />
<line x1="453.2" y1="232.4" x2="550" y2="232.4" stroke="#000" stroke-width="1.3" />
<path d="M464.9,232.6 Q465.4,235.9 467.5,235.9 L535,235.9 Q537.2,235.9 537.6,232.6" fill="none" stroke="#000" stroke-width="1.2" />
<rect x="453.6" y="240.8" width="96.0" height="7.6" rx="1.2" fill="none" stroke="#000" stroke-width="1.6" />
<rect x="453.6" y="253.7" width="96.0" height="7.9" rx="1.2" fill="none" stroke="#000" stroke-width="1.6" />
<rect x="453.6" y="267" width="96.0" height="7.9" rx="1.2" fill="none" stroke="#000" stroke-width="1.6" />
<line x1="457.6" y1="233" x2="457.6" y2="278" stroke="#999" stroke-width="0.6" />
<line x1="544.7" y1="233" x2="544.7" y2="278" stroke="#999" stroke-width="0.6" />
<line x1="453.2" y1="276.6" x2="550" y2="276.6" stroke="#999" stroke-width="0.6" />
<line x1="453.2" y1="278.8" x2="550" y2="278.8" stroke="#000" stroke-width="1.3" />
<rect x="453.2" y="283.7" width="17.5" height="88.3" rx="0" fill="none" stroke="#000" stroke-width="1.3" />
<path d="M455,283.7 L455,372 M468.6,283.7 L468.6,372" fill="none" stroke="#8a8a8a" stroke-width="0.6" />
<path d="M453.2,330 L460,326 L470.7,326" fill="none" stroke="#000" stroke-width="0.8" />
<line x1="513.5" y1="280" x2="513.5" y2="372" stroke="#000" stroke-width="1.2" />
<line x1="517" y1="283" x2="517" y2="372" stroke="#8a8a8a" stroke-width="0.8" />
<line x1="530.2" y1="284" x2="530.2" y2="362" stroke="#000" stroke-width="1.0" />
<path d="M513.5,280 L546,280 L546,283 M530.2,284 L546,284" fill="none" stroke="#000" stroke-width="1.0" />
<path d="M530.2,359.4 L549,357.5 M530.2,363 L549,362" fill="none" stroke="#000" stroke-width="0.9" />
<line x1="546" y1="283" x2="546" y2="357" stroke="#8a8a8a" stroke-width="0.7" />
<line x1="545.7" y1="175" x2="545.7" y2="279" stroke="#8a8a8a" stroke-width="0.7" />
<line x1="453.2" y1="372" x2="550" y2="372" stroke="#000" stroke-width="1.4" />
<line x1="455" y1="369" x2="548" y2="369" stroke="#8a8a8a" stroke-width="0.7" />
<rect x="458.3" y="372.5" width="54.9" height="14.5" rx="0.5" fill="none" stroke="#000" stroke-width="1.3" />
<line x1="462" y1="372.5" x2="462" y2="388" stroke="#8a8a8a" stroke-width="0.7" />
<rect x="462.2" y="391.2" width="47.40" height="21.80" fill="#d8d8d8"/>
<path d="M462.2,394.03 Q485.90,393.16 509.6,392.29" fill="none" stroke="#8a8a8a" stroke-width="1.962000000000001" />
<path d="M462.2,392.51 Q485.90,391.85 509.6,391.42" fill="none" stroke="#f0f0f0" stroke-width="0.7" />
<path d="M462.2,398.39 Q485.90,397.52 509.6,396.65" fill="none" stroke="#8a8a8a" stroke-width="1.962000000000001" />
<path d="M462.2,396.87 Q485.90,396.21 509.6,395.78" fill="none" stroke="#f0f0f0" stroke-width="0.7" />
<path d="M462.2,402.75 Q485.90,401.88 509.6,401.01" fill="none" stroke="#8a8a8a" stroke-width="1.962000000000001" />
<path d="M462.2,401.23 Q485.90,400.57 509.6,400.14" fill="none" stroke="#f0f0f0" stroke-width="0.7" />
<path d="M462.2,407.11 Q485.90,406.24 509.6,405.37" fill="none" stroke="#8a8a8a" stroke-width="1.962000000000001" />
<path d="M462.2,405.59 Q485.90,404.93 509.6,404.50" fill="none" stroke="#f0f0f0" stroke-width="0.7" />
<path d="M462.2,411.47 Q485.90,410.60 509.6,409.73" fill="none" stroke="#8a8a8a" stroke-width="1.962000000000001" />
<path d="M462.2,409.95 Q485.90,409.29 509.6,408.86" fill="none" stroke="#f0f0f0" stroke-width="0.7" />
<path d="M462.2,391.80 Q485.90,391.50 509.6,390.60" fill="none" stroke="#111" stroke-width="1.5" />
<path d="M462.7,389.50 L460.0,391.40 L462.7,393.10 Z M509.1,389.30 L511.8,390.80 L509.1,392.70 Z" fill="#111"/>
<path d="M462.2,396.16 Q485.90,395.86 509.6,394.96" fill="none" stroke="#111" stroke-width="1.5" />
<path d="M462.7,393.86 L460.0,395.76 L462.7,397.46 Z M509.1,393.66 L511.8,395.16 L509.1,397.06 Z" fill="#111"/>
<path d="M462.2,400.52 Q485.90,400.22 509.6,399.32" fill="none" stroke="#111" stroke-width="1.5" />
<path d="M462.7,398.22 L460.0,400.12 L462.7,401.82 Z M509.1,398.02 L511.8,399.52 L509.1,401.42 Z" fill="#111"/>
<path d="M462.2,404.88 Q485.90,404.58 509.6,403.68" fill="none" stroke="#111" stroke-width="1.5" />
<path d="M462.7,402.58 L460.0,404.48 L462.7,406.18 Z M509.1,402.38 L511.8,403.88 L509.1,405.78 Z" fill="#111"/>
<path d="M462.2,409.24 Q485.90,408.94 509.6,408.04" fill="none" stroke="#111" stroke-width="1.5" />
<path d="M462.7,406.94 L460.0,408.84 L462.7,410.54 Z M509.1,406.74 L511.8,408.24 L509.1,410.14 Z" fill="#111"/>
<path d="M462.2,413.60 Q485.90,413.30 509.6,412.40" fill="none" stroke="#111" stroke-width="1.5" />
<path d="M462.7,411.30 L460.0,413.20 L462.7,414.90 Z M509.1,411.10 L511.8,412.60 L509.1,414.50 Z" fill="#111"/>
<line x1="462.2" y1="391.2" x2="462.2" y2="413.0" stroke="#222" stroke-width="1.0" />
<line x1="509.6" y1="391.2" x2="509.6" y2="413.0" stroke="#222" stroke-width="1.0" />
<path d="M459.8,387 L459.8,413 M511.7,387 L511.7,413" fill="none" stroke="#000" stroke-width="1.1" />
<path d="M463.4,413.2 L463.4,417.3 Q463.4,419.1 465.2,419.1 L505.5,419.1 Q507.3,419.1 507.3,417.3 L507.3,413.2" fill="none" stroke="#000" stroke-width="1.6" />
<path d="M519.8,372.5 L519.8,386.5 M545.4,372.5 L545.4,386.5" fill="none" stroke="#000" stroke-width="1.1" />
<path d="M517.6,386.5 L547.6,386.5 L547.6,394 Q547.6,397.1 544.5,397.1 L520.7,397.1 Q517.6,397.1 517.6,394 Z" fill="none" stroke="#000" stroke-width="1.1" />
<line x1="519.5" y1="389.5" x2="545.5" y2="389.5" stroke="#888" stroke-width="0.7" />
<rect x="525.7" y="375.9" width="13.1" height="14.6" rx="0.8" fill="none" stroke="#000" stroke-width="1.1" />
<line x1="522.5" y1="373" x2="522.5" y2="386" stroke="#999" stroke-width="0.6" />
<line x1="542.8" y1="373" x2="542.8" y2="386" stroke="#999" stroke-width="0.6" />
<line x1="638.2" y1="171" x2="638.2" y2="218" stroke="#333" stroke-width="0.95" />
<line x1="522.7" y1="214.2" x2="665.4" y2="214.2" stroke="#333" stroke-width="0.95" />
<path d="M549.60,214.20 L533.30,216.60 L533.30,211.80 Z" fill="#000"/>
<path d="M638.60,214.20 L654.90,211.80 L654.90,216.60 Z" fill="#000"/>
<text x="605.75" y="196.30" font-size="14.8" text-anchor="middle" textLength="19.70" lengthAdjust="spacingAndGlyphs" fill="#000">0.8</text>
<path d="M595.1,182.4 L592.5,182.4 L592.5,198.5 L595.1,198.5 M616.1,182.4 L618.7,182.4 L618.7,198.5 L616.1,198.5" fill="none" stroke="#222" stroke-width="1.1" stroke-linecap="butt" stroke-linejoin="miter"/>
<text x="605.50" y="211.70" font-size="14.8" text-anchor="middle" textLength="26.00" lengthAdjust="spacingAndGlyphs" fill="#000">21.4</text>
<path d="M69.1,476.3 L69.1,469 Q69.1,466.6 71.5,466.6 L93.6,466.6 Q96,466.6 96,469 L96,476.3" fill="none" stroke="#000" stroke-width="1.2" />
<line x1="87.3" y1="467" x2="87.3" y2="476" stroke="#8a8a8a" stroke-width="0.8" />
<path d="M242.1,476.3 L242.1,469 Q242.1,466.6 239.7,466.6 L217.6,466.6 Q215.2,466.6 215.2,469 L215.2,476.3" fill="none" stroke="#000" stroke-width="1.2" />
<line x1="223.9" y1="467" x2="223.9" y2="476" stroke="#8a8a8a" stroke-width="0.8" />
<line x1="71" y1="473.5" x2="94" y2="473.5" stroke="#b5b5b5" stroke-width="0.6" />
<line x1="240.2" y1="473.5" x2="217.2" y2="473.5" stroke="#b5b5b5" stroke-width="0.6" />
<path d="M105.0,476.3 L105.0,469.5 Q105.0,466.8 107.7,466.8 L110.89999999999999,466.8 Q113.6,466.8 113.6,469.5 L113.6,476.3" fill="none" stroke="#000" stroke-width="1.1" />
<line x1="106.8" y1="468" x2="106.8" y2="476" stroke="#b5b5b5" stroke-width="0.5" />
<line x1="111.8" y1="468" x2="111.8" y2="476" stroke="#b5b5b5" stroke-width="0.5" />
<path d="M123.60000000000001,476.3 L123.60000000000001,469.5 Q123.60000000000001,466.8 126.30000000000001,466.8 L129.5,466.8 Q132.20000000000002,466.8 132.20000000000002,469.5 L132.20000000000002,476.3" fill="none" stroke="#000" stroke-width="1.1" />
<line x1="125.4" y1="468" x2="125.4" y2="476" stroke="#b5b5b5" stroke-width="0.5" />
<line x1="130.4" y1="468" x2="130.4" y2="476" stroke="#b5b5b5" stroke-width="0.5" />
<path d="M142.29999999999998,476.3 L142.29999999999998,469.5 Q142.29999999999998,466.8 145.0,466.8 L148.2,466.8 Q150.9,466.8 150.9,469.5 L150.9,476.3" fill="none" stroke="#000" stroke-width="1.1" />
<line x1="144.1" y1="468" x2="144.1" y2="476" stroke="#b5b5b5" stroke-width="0.5" />
<line x1="149.1" y1="468" x2="149.1" y2="476" stroke="#b5b5b5" stroke-width="0.5" />
<path d="M160.29999999999998,476.3 L160.29999999999998,469.5 Q160.29999999999998,466.8 163.0,466.8 L166.2,466.8 Q168.9,466.8 168.9,469.5 L168.9,476.3" fill="none" stroke="#000" stroke-width="1.1" />
<line x1="162.1" y1="468" x2="162.1" y2="476" stroke="#b5b5b5" stroke-width="0.5" />
<line x1="167.1" y1="468" x2="167.1" y2="476" stroke="#b5b5b5" stroke-width="0.5" />
<path d="M179.0,476.3 L179.0,469.5 Q179.0,466.8 181.70000000000002,466.8 L184.9,466.8 Q187.60000000000002,466.8 187.60000000000002,469.5 L187.60000000000002,476.3" fill="none" stroke="#000" stroke-width="1.1" />
<line x1="180.8" y1="468" x2="180.8" y2="476" stroke="#b5b5b5" stroke-width="0.5" />
<line x1="185.8" y1="468" x2="185.8" y2="476" stroke="#b5b5b5" stroke-width="0.5" />
<path d="M197.6,476.3 L197.6,469.5 Q197.6,466.8 200.3,466.8 L203.5,466.8 Q206.20000000000002,466.8 206.20000000000002,469.5 L206.20000000000002,476.3" fill="none" stroke="#000" stroke-width="1.1" />
<line x1="199.4" y1="468" x2="199.4" y2="476" stroke="#b5b5b5" stroke-width="0.5" />
<line x1="204.4" y1="468" x2="204.4" y2="476" stroke="#b5b5b5" stroke-width="0.5" />
<rect x="114.4" y="471.5" width="8.2" height="4.8" rx="1" fill="none" stroke="#8a8a8a" stroke-width="0.9" />
<rect x="151.5" y="471.5" width="7.3" height="4.8" rx="1" fill="none" stroke="#8a8a8a" stroke-width="0.9" />
<rect x="169.6" y="471.5" width="8.0" height="4.8" rx="1" fill="none" stroke="#8a8a8a" stroke-width="0.9" />
<rect x="187.8" y="471.5" width="7.8" height="4.8" rx="1" fill="none" stroke="#8a8a8a" stroke-width="0.9" />
<line x1="96" y1="476.3" x2="215.2" y2="476.3" stroke="#000" stroke-width="1.3" />
<line x1="69.1" y1="476.3" x2="69.1" y2="476.3" stroke="#000" stroke-width="1" />
<path d="M68.5,476.3 L68.5,568 Q68.5,573.3 73,573.3 L238.3,573.3 Q242.8,573.3 242.8,568 L242.8,476.3" fill="none" stroke="#000" stroke-width="1.4" />
<path d="M68.5,476.3 L96,476.3 M215.2,476.3 L242.8,476.3" fill="none" stroke="#000" stroke-width="1.3" />
<path d="M67.2,540 L67.2,568 M244.1,540 L244.1,568" fill="none" stroke="#000" stroke-width="1.8" />
<path d="M69.6,477 L84.7,477 Q88.7,477 88.7,481 L88.7,491 Q88.7,495.9 83.7,495.9 L69.6,495.9" fill="none" stroke="#000" stroke-width="1.2" />
<line x1="69.6" y1="491.5" x2="86.7" y2="478.5" stroke="#000" stroke-width="1.1" />
<line x1="69.6" y1="485" x2="80.7" y2="477.3" stroke="#000" stroke-width="1.0" />
<path d="M241.6,477 L226.5,477 Q222.5,477 222.5,481 L222.5,491 Q222.5,495.9 227.5,495.9 L241.6,495.9" fill="none" stroke="#000" stroke-width="1.2" />
<line x1="241.6" y1="491.5" x2="224.5" y2="478.5" stroke="#000" stroke-width="1.1" />
<line x1="241.6" y1="485" x2="230.5" y2="477.3" stroke="#000" stroke-width="1.0" />
<line x1="69.1" y1="539.1" x2="99" y2="573.3" stroke="#000" stroke-width="1.2" />
<line x1="69.1" y1="557.4" x2="83.8" y2="572.7" stroke="#000" stroke-width="1.1" />
<line x1="242.1" y1="539.1" x2="212.2" y2="573.3" stroke="#000" stroke-width="1.2" />
<line x1="242.1" y1="557.4" x2="227.4" y2="572.7" stroke="#000" stroke-width="1.1" />
<line x1="71" y1="541.5" x2="97.5" y2="572" stroke="#b5b5b5" stroke-width="0.6" />
<line x1="240.2" y1="541.5" x2="213.7" y2="572" stroke="#b5b5b5" stroke-width="0.6" />
<circle cx="114.2" cy="511.4" r="28.2" fill="none" stroke="#ababab" stroke-width="3.6" />
<circle cx="114.2" cy="511.4" r="25.8" fill="none" stroke="#000" stroke-width="2.1" />
<circle cx="114.2" cy="511.4" r="22.4" fill="none" stroke="#000" stroke-width="1.3" />
<circle cx="114.2" cy="511.4" r="20.3" fill="none" stroke="#000" stroke-width="0.9" />
<circle cx="114.2" cy="511.4" r="17.9" fill="none" stroke="#000" stroke-width="1.6" />
<circle cx="108.2" cy="499.9" r="2.0" fill="none" stroke="#000" stroke-width="1.5" />
<circle cx="119.7" cy="499.9" r="2.0" fill="none" stroke="#000" stroke-width="1.5" />
<circle cx="102.6" cy="505.4" r="2.0" fill="none" stroke="#000" stroke-width="1.5" />
<circle cx="125.7" cy="505.4" r="2.0" fill="none" stroke="#000" stroke-width="1.5" />
<circle cx="102.6" cy="517.4" r="2.0" fill="none" stroke="#000" stroke-width="1.5" />
<circle cx="125.7" cy="517.4" r="2.0" fill="none" stroke="#000" stroke-width="1.5" />
<circle cx="108.2" cy="522.9" r="2.0" fill="none" stroke="#000" stroke-width="1.5" />
<circle cx="119.7" cy="522.9" r="2.0" fill="none" stroke="#000" stroke-width="1.5" />
<path d="M114.2,495.59999999999997 L114.2,527.1999999999999 M98.4,511.4 L130.0,511.4" fill="none" stroke="#1a1a1a" stroke-width="2.6" />
<path d="M114.2,497.4 L114.2,508.4 M114.2,514.4 L114.2,525.4 M100.2,511.4 L111.2,511.4 M117.2,511.4 L128.2,511.4" fill="none" stroke="#fff" stroke-width="0.7" />
<rect x="112.9" y="510.09999999999997" width="2.6" height="2.6" fill="#fff"/>
<path d="M115.7,514.9 L118.7,514.9 L118.7,517.9 L121.7,517.9" fill="none" stroke="#222" stroke-width="1.0" />
<circle cx="196.8" cy="509.5" r="26.9" fill="none" stroke="#9a9a9a" stroke-width="2.4" />
<circle cx="196.8" cy="509.5" r="24.4" fill="none" stroke="#000" stroke-width="2.0" />
<circle cx="196.8" cy="509.5" r="20.3" fill="none" stroke="#000" stroke-width="2.2" />
<circle cx="196.8" cy="509.5" r="17.6" fill="none" stroke="#000" stroke-width="1.0" />
<circle cx="190.7" cy="499.1" r="1.4" fill="none" stroke="#000" stroke-width="1.2" />
<circle cx="198.4" cy="497.4" r="1.4" fill="none" stroke="#000" stroke-width="1.2" />
<circle cx="185.8" cy="505.1" r="1.4" fill="none" stroke="#000" stroke-width="1.2" />
<circle cx="195.7" cy="505.1" r="1.4" fill="none" stroke="#000" stroke-width="1.2" />
<circle cx="208.8" cy="507.9" r="1.4" fill="none" stroke="#000" stroke-width="1.2" />
<circle cx="185.2" cy="512.8" r="1.4" fill="none" stroke="#000" stroke-width="1.2" />
<circle cx="193.5" cy="512.8" r="1.4" fill="none" stroke="#000" stroke-width="1.2" />
<circle cx="201.2" cy="510.8" r="1.4" fill="none" stroke="#000" stroke-width="1.2" />
<circle cx="207.2" cy="515.5" r="1.4" fill="none" stroke="#000" stroke-width="1.2" />
<circle cx="193.5" cy="521" r="1.4" fill="none" stroke="#000" stroke-width="1.2" />
<circle cx="201.5" cy="520.7" r="1.4" fill="none" stroke="#000" stroke-width="1.2" />
<circle cx="186.3" cy="519.9" r="2.1" fill="none" stroke="#000" stroke-width="1.0" />
<path d="M204.5,500.5 Q205,498.8 206.5,499" fill="none" stroke="#000" stroke-width="1.0" />
<path d="M129,541 L181.2,541 Q196.5,541 196.5,556.5 Q196.5,572.1 181.2,572.1 L129,572.1 Q113.7,572.1 113.7,556.5 Q113.7,541 129,541 Z" fill="none" stroke="#000" stroke-width="1.3" />
<path d="M130,544.5 L180.2,544.5 Q193,544.5 193,556.5 Q193,568.6 180.2,568.6 L130,568.6 Q117.2,568.6 117.2,556.5 Q117.2,544.5 130,544.5 Z" fill="none" stroke="#aaa" stroke-width="1.6" />
<line x1="128" y1="541" x2="128" y2="572" stroke="#b5b5b5" stroke-width="0.6" />
<line x1="182" y1="541" x2="182" y2="572" stroke="#b5b5b5" stroke-width="0.6" />
<path d="M195,548 L214,548 Q216,548 216,550 L216,562.4 Q216,564.4 214,564.4 L195,564.4" fill="none" stroke="#000" stroke-width="1.2" />
<line x1="201.5" y1="548.5" x2="201.5" y2="564" stroke="#8a8a8a" stroke-width="0.7" />
<line x1="208" y1="548.5" x2="208" y2="564" stroke="#8a8a8a" stroke-width="0.7" />
<line x1="67.7" y1="573.3" x2="67.7" y2="662.2" stroke="#000" stroke-width="1.4" />
<line x1="243.3" y1="573.3" x2="243.3" y2="662.2" stroke="#000" stroke-width="1.4" />
<line x1="67.7" y1="581.8" x2="243.3" y2="581.8" stroke="#000" stroke-width="1.4" />
<line x1="73" y1="582" x2="73" y2="645" stroke="#8a8a8a" stroke-width="0.7" />
<line x1="238" y1="582" x2="238" y2="645" stroke="#8a8a8a" stroke-width="0.7" />
<line x1="155.6" y1="573.5" x2="155.6" y2="581.6" stroke="#8a8a8a" stroke-width="0.7" />
<line x1="67.7" y1="607.3" x2="243.3" y2="607.3" stroke="#000" stroke-width="1.2" />
<path d="M80,608.3 L81.5,610.2 L229.5,610.2 L231,608.3" fill="none" stroke="#000" stroke-width="1.0" />
<line x1="67.7" y1="611.5" x2="243.3" y2="611.5" stroke="#8a8a8a" stroke-width="0.8" />
<line x1="67.7" y1="645.1" x2="243.3" y2="645.1" stroke="#8a8a8a" stroke-width="0.9" />
<line x1="67.7" y1="662.2" x2="243.3" y2="662.2" stroke="#000" stroke-width="1.4" />
<path d="M134,597.7 L146.5,597.7 L148,594 L163,594 L164.5,597.7 L177,597.7 Q180.6,597.7 180.6,601.5 L180.6,623.5 Q180.6,628.2 176,628.2 L135,628.2 Q130.6,628.2 130.6,623.5 L130.6,601.5 Q130.6,597.7 134,597.7 Z" fill="none" stroke="#000" stroke-width="1.3" />
<path d="M135,600.5 L145,600.5 Q148,600.5 148,598 M163,598 Q163,600.5 166,600.5 L176,600.5 Q178,600.5 178,603 L178,622 Q178,625.5 175,625.5 L136,625.5 Q133.2,625.5 133.2,622 L133.2,603 Q133.2,600.5 135,600.5" fill="none" stroke="#8a8a8a" stroke-width="0.8" />
<path d="M68.4,645.1 L68.4,662.2 M89.1,645.1 L89.1,662.2" fill="none" stroke="#000" stroke-width="1.1" />
<path d="M70.4,647 Q78.75,653 87.1,647" fill="none" stroke="#000" stroke-width="1.0" />
<line x1="78.75" y1="650" x2="78.75" y2="662" stroke="#b5b5b5" stroke-width="0.6" />
<path d="M222,645.1 L222,662.2 M242.8,645.1 L242.8,662.2" fill="none" stroke="#000" stroke-width="1.1" />
<path d="M224,647 Q232.4,653 240.8,647" fill="none" stroke="#000" stroke-width="1.0" />
<line x1="232.4" y1="650" x2="232.4" y2="662" stroke="#b5b5b5" stroke-width="0.6" />
<path d="M442.3,471.2 L513,469.6 L638.2,469.6" fill="none" stroke="#000" stroke-width="1.4" />
<path d="M442.9,644 L513,645.3 L638.2,644.8" fill="none" stroke="#000" stroke-width="1.4" />
<line x1="638.2" y1="469.6" x2="638.2" y2="644.8" stroke="#000" stroke-width="1.5" />
<path d="M442.3,471.2 L442.3,496 L453.3,496 L453.3,508.2 L442.9,508.2 L442.9,514.9 L453.3,514.9 L453.3,526.5 L442.9,526.5 L442.9,533.2 L453.3,533.2 L453.3,544.8 L442.9,544.8 L442.9,551.5 L453.3,551.5 L453.3,563.1 L442.9,563.1 L442.9,569.8000000000001 L453.3,569.8000000000001 L453.3,581.4 L442.9,581.4 L442.9,588.1 L453.3,588.1 L453.3,600.1 L442.9,600.1 L442.9,606.8000000000001 L453.3,606.8000000000001 L453.3,617.8 L442.9,617.8 L442.9,644" fill="none" stroke="#000" stroke-width="1.3" />
<line x1="451.5" y1="515.7" x2="451.5" y2="523.2" stroke="#8a8a8a" stroke-width="0.6" />
<line x1="451.5" y1="534.0" x2="451.5" y2="541.5" stroke="#8a8a8a" stroke-width="0.6" />
<line x1="451.5" y1="552.3" x2="451.5" y2="559.8" stroke="#8a8a8a" stroke-width="0.6" />
<line x1="451.5" y1="570.6" x2="451.5" y2="578.1" stroke="#8a8a8a" stroke-width="0.6" />
<line x1="451.5" y1="588.9" x2="451.5" y2="596.4" stroke="#8a8a8a" stroke-width="0.6" />
<line x1="451.5" y1="607.6" x2="451.5" y2="615.1" stroke="#8a8a8a" stroke-width="0.6" />
<path d="M442.3,490.8 L483.5,489.8 L483.5,470.5" fill="none" stroke="#000" stroke-width="1.3" />
<rect x="475.9" y="472.2" width="7.3" height="16.5" rx="0.5" fill="none" stroke="#000" stroke-width="1.2" />
<line x1="443" y1="475.5" x2="476" y2="474.5" stroke="#8a8a8a" stroke-width="0.6" />
<line x1="443" y1="480.5" x2="476" y2="480.5" stroke="#8a8a8a" stroke-width="0.6" />
<line x1="483.5" y1="473" x2="513" y2="472.5" stroke="#8a8a8a" stroke-width="0.6" />
<line x1="483.5" y1="478" x2="513" y2="477.5" stroke="#8a8a8a" stroke-width="0.6" />
<path d="M442.9,619.5 L483.5,620.5 L483.5,644.5" fill="none" stroke="#000" stroke-width="1.3" />
<rect x="475.2" y="626.3" width="8.0" height="16.3" rx="0.5" fill="none" stroke="#000" stroke-width="1.2" />
<line x1="443" y1="634.3" x2="476" y2="634.3" stroke="#8a8a8a" stroke-width="0.6" />
<line x1="443" y1="640.5" x2="476" y2="641" stroke="#8a8a8a" stroke-width="0.6" />
<line x1="483.5" y1="637" x2="513" y2="637.5" stroke="#8a8a8a" stroke-width="0.6" />
<line x1="483.5" y1="642" x2="513" y2="642.5" stroke="#8a8a8a" stroke-width="0.6" />
<rect x="510.2" y="482.6" width="3.5" height="148.9" rx="1.5" fill="none" stroke="#000" stroke-width="1.2" />
<line x1="514.6" y1="469.6" x2="514.6" y2="645" stroke="#000" stroke-width="1.5" />
<line x1="545.9" y1="469.6" x2="545.9" y2="644.8" stroke="#000" stroke-width="1.2" />
<line x1="558.1" y1="469.6" x2="558.1" y2="644.8" stroke="#000" stroke-width="1.2" />
<line x1="582.5" y1="469.6" x2="582.5" y2="644.8" stroke="#000" stroke-width="1.2" />
<line x1="586" y1="469.6" x2="586" y2="644.8" stroke="#000" stroke-width="1.2" />
<rect x="582.9" y="484.4" width="2.7" height="145.4" rx="1.2" fill="none" stroke="#000" stroke-width="0.8" />
<line x1="620.8" y1="470" x2="620.8" y2="644.5" stroke="#8a8a8a" stroke-width="0.8" />
<rect x="518.9" y="467.8" width="24.4" height="3.0" rx="1.5" fill="none" stroke="#666" stroke-width="0.9" />
<rect x="518.9" y="644" width="24.4" height="2.8" rx="1.5" fill="none" stroke="#666" stroke-width="0.9" />
<line x1="514.6" y1="477.4" x2="638.2" y2="477.4" stroke="#b5b5b5" stroke-width="0.6" />
<line x1="514.6" y1="637.6" x2="638.2" y2="637.6" stroke="#b5b5b5" stroke-width="0.6" />
<line x1="546" y1="473.5" x2="620" y2="473.5" stroke="#b5b5b5" stroke-width="0.5" />
<line x1="546" y1="641" x2="620" y2="641" stroke="#b5b5b5" stroke-width="0.5" />
<rect x="518.1" y="497.4" width="24.3" height="119.3" rx="5" fill="none" stroke="#000" stroke-width="1.3" />
<rect x="521.5" y="500.9" width="19.2" height="113.2" rx="3.5" fill="none" stroke="#000" stroke-width="1.8" />
<line x1="519.6" y1="508" x2="519.6" y2="607" stroke="#222" stroke-width="1.2" />
<rect x="527.6" y="505.8" width="7.0" height="16.4" rx="3.5" fill="none" stroke="#000" stroke-width="1.3" />
<rect x="527.6" y="527.0" width="7.0" height="16.4" rx="3.5" fill="none" stroke="#000" stroke-width="1.3" />
<rect x="527.6" y="549.0" width="7.0" height="16.4" rx="3.5" fill="none" stroke="#000" stroke-width="1.3" />
<rect x="527.6" y="570.7" width="7.0" height="16.4" rx="3.5" fill="none" stroke="#000" stroke-width="1.3" />
<rect x="527.6" y="592.5" width="7.0" height="16.4" rx="3.5" fill="none" stroke="#000" stroke-width="1.3" />
<circle cx="523.3" cy="512.3" r="2.6" fill="#fff" stroke="#000" stroke-width="1.2" />
<line x1="520.7" y1="512.3" x2="525.9" y2="512.3" stroke="#000" stroke-width="0.9" />
<line x1="523.3" y1="514.9" x2="523.3" y2="517" stroke="#000" stroke-width="0.9" />
<rect x="520.2" y="532.3" width="6.0" height="5.9" rx="0" fill="#fff" stroke="#000" stroke-width="1.1" />
<line x1="523.2" y1="532.3" x2="523.2" y2="538.2" stroke="#000" stroke-width="0.9" />
<line x1="520.2" y1="535.2" x2="526.2" y2="535.2" stroke="#000" stroke-width="0.9" />
<path d="M520.2,556.5 L525.6,551.8 M520.2,560.2 L525.6,555.5" fill="none" stroke="#000" stroke-width="1.3" />
<rect x="520.2" y="575.6" width="5.4" height="6.0" rx="0" fill="#333" stroke="#222" stroke-width="1.0" />
<line x1="525.6" y1="578.6" x2="527.6" y2="578.6" stroke="#000" stroke-width="1.0" />
<circle cx="523.3" cy="603.5" r="2.6" fill="#fff" stroke="#000" stroke-width="1.2" />
<line x1="520.7" y1="603.5" x2="525.9" y2="603.5" stroke="#000" stroke-width="0.9" />
<line x1="523.3" y1="598.8" x2="523.3" y2="600.9" stroke="#000" stroke-width="0.9" />
<line x1="526.2" y1="535.7" x2="527.6" y2="535.7" stroke="#000" stroke-width="0.9" />
<line x1="526.2" y1="557.7" x2="527.6" y2="557.7" stroke="#000" stroke-width="0.9" />
<rect x="575.5" y="532.3" width="28.8" height="49.6" rx="6" fill="none" stroke="#000" stroke-width="1.3" />
<rect x="577.3" y="534.1" width="25.2" height="46.0" rx="5" fill="none" stroke="#000" stroke-width="0.8" />
<path d="M621.7,472.2 L623.5,472.2 Q628.6,473.5 628.6,480.9 Q628.6,488.3 623.5,489.6 L621.7,489.6 Z" fill="none" stroke="#000" stroke-width="1.2" />
<path d="M621.7,624.5 L623.5,624.5 Q628.6,625.8 628.6,633.2 Q628.6,640.6 623.5,642 L621.7,642 Z" fill="none" stroke="#000" stroke-width="1.2" />
<line x1="620.8" y1="490.5" x2="638.2" y2="490.5" stroke="#000" stroke-width="1.1" />
<line x1="620.8" y1="623.7" x2="638.2" y2="623.7" stroke="#000" stroke-width="1.1" />
<line x1="629" y1="481" x2="638" y2="481" stroke="#8a8a8a" stroke-width="0.6" />
<line x1="629" y1="633" x2="638" y2="633" stroke="#8a8a8a" stroke-width="0.6" />
<line x1="545.9" y1="557.2" x2="590.3" y2="557.2" stroke="#000" stroke-width="1.0" />
<line x1="595.5" y1="557.2" x2="601.6" y2="557.2" stroke="#000" stroke-width="1.0" />
<line x1="606.9" y1="557.2" x2="652.3" y2="557.2" stroke="#000" stroke-width="1.0" />
<text x="762.85" y="486.00" font-size="14.6" text-anchor="middle" textLength="88.50" lengthAdjust="spacingAndGlyphs" fill="#000">OPTICAL AXIS</text>
<line x1="716.7" y1="487.6" x2="806.6" y2="487.6" stroke="#333" stroke-width="0.95" />
<line x1="716.7" y1="487.6" x2="645" y2="553.5" stroke="#333" stroke-width="0.95" />
<path d="M641.80,556.50 L652.24,543.76 L655.47,547.31 Z" fill="#000"/>
<line x1="78.6" y1="720.2" x2="78.6" y2="743" stroke="#333" stroke-width="0.95" />
<line x1="231.9" y1="720.2" x2="231.9" y2="743" stroke="#333" stroke-width="0.95" />
<line x1="78.7" y1="724.6" x2="231.9" y2="724.6" stroke="#333" stroke-width="0.95" />
<path d="M79.00,724.60 L95.30,722.20 L95.30,727.00 Z" fill="#000"/>
<path d="M231.60,724.60 L215.30,727.00 L215.30,722.20 Z" fill="#000"/>
<text x="157.45" y="706.60" font-size="14.8" text-anchor="middle" textLength="31.30" lengthAdjust="spacingAndGlyphs" fill="#000">1.457</text>
<path d="M138.6,692.6 L136,692.6 L136,709.6 L138.6,709.6 M174.4,692.6 L177,692.6 L177,709.6 L174.4,709.6" fill="none" stroke="#222" stroke-width="1.1" stroke-linecap="butt" stroke-linejoin="miter"/>
<text x="156.80" y="721.90" font-size="14.8" text-anchor="middle" textLength="26.60" lengthAdjust="spacingAndGlyphs" fill="#000">37.0</text>
<line x1="47.2" y1="707.4" x2="47.2" y2="789.8" stroke="#333" stroke-width="0.95" />
<path d="M47.20,733.40 L44.80,717.10 L49.60,717.10 Z" fill="#000"/>
<path d="M47.20,764.30 L49.60,780.60 L44.80,780.60 Z" fill="#000"/>
<line x1="43" y1="733.6" x2="70.4" y2="733.6" stroke="#333" stroke-width="0.95" />
<line x1="43" y1="764.1" x2="73.5" y2="764.1" stroke="#333" stroke-width="0.95" />
<text x="28.90" y="749.10" font-size="14.8" text-anchor="middle" textLength="33.20" lengthAdjust="spacingAndGlyphs" transform="rotate(-90 28.90 749.10)" fill="#000">0.289</text>
<path d="M15.2,766.6 L15.2,769.2 L32,769.2 L32,766.6 M15.2,731.3000000000001 L15.2,728.7 L32,728.7 L32,731.3000000000001" fill="none" stroke="#222" stroke-width="1.1" stroke-linecap="butt" stroke-linejoin="miter"/>
<text x="44.10" y="749.25" font-size="14.8" text-anchor="middle" textLength="17.10" lengthAdjust="spacingAndGlyphs" transform="rotate(-90 44.10 749.25)" fill="#000">7.4</text>
<line x1="313.2" y1="738.3" x2="313.2" y2="840.3" stroke="#333" stroke-width="0.95" />
<path d="M313.20,763.60 L310.80,747.30 L315.60,747.30 Z" fill="#000"/>
<path d="M313.20,785.50 L315.60,801.80 L310.80,801.80 Z" fill="#000"/>
<line x1="238" y1="763.8" x2="317.2" y2="763.8" stroke="#333" stroke-width="0.95" />
<line x1="159.4" y1="785.3" x2="317.2" y2="785.3" stroke="#333" stroke-width="0.95" />
<text x="294.80" y="820.60" font-size="14.8" text-anchor="middle" textLength="18.60" lengthAdjust="spacingAndGlyphs" transform="rotate(-90 294.80 820.60)" fill="#000">0.2</text>
<path d="M281.1,830.4 L281.1,833 L297.9,833 L297.9,830.4 M281.1,810.4 L281.1,807.8 L297.9,807.8 L297.9,810.4" fill="none" stroke="#222" stroke-width="1.1" stroke-linecap="butt" stroke-linejoin="miter"/>
<text x="310.40" y="820.60" font-size="14.8" text-anchor="middle" textLength="18.60" lengthAdjust="spacingAndGlyphs" transform="rotate(-90 310.40 820.60)" fill="#000">5.2</text>
<text x="352.05" y="719.60" font-size="14.2" text-anchor="middle" textLength="68.30" lengthAdjust="spacingAndGlyphs" fill="#000">2X M3 - 6H</text>
<text x="418.65" y="719.60" font-size="14.2" text-anchor="middle" textLength="18.70" lengthAdjust="spacingAndGlyphs" fill="#000">7.3</text>
<path d="M393,710 L402.4,710 M397.7,710 L397.7,719.6 M393.5,713 L397.7,719.6 L401.9,713" fill="none" stroke="#000" stroke-width="1.1" />
<line x1="310.2" y1="722.2" x2="428" y2="722.2" stroke="#333" stroke-width="0.95" />
<line x1="310.2" y1="722.2" x2="99" y2="761" stroke="#333" stroke-width="0.95" />
<path d="M85.30,763.50 L100.91,758.24 L101.77,762.96 Z" fill="#000"/>
<line x1="310.2" y1="722.2" x2="250" y2="752.5" stroke="#333" stroke-width="0.95" />
<path d="M237.20,760.40 L250.70,750.95 L252.85,755.24 Z" fill="#000"/>
<text x="326.35" y="886.30" font-size="14.6" text-anchor="middle" textLength="87.50" lengthAdjust="spacingAndGlyphs" fill="#000">OPTICAL AXIS</text>
<line x1="279.9" y1="889.4" x2="368.9" y2="889.4" stroke="#333" stroke-width="0.95" />
<line x1="279.6" y1="889.1" x2="166" y2="794" stroke="#333" stroke-width="0.95" />
<path d="M155.20,785.20 L169.24,793.82 L166.16,797.50 Z" fill="#000"/>
<circle cx="155" cy="785.1" r="1.5" fill="#000" stroke="#000" stroke-width="0" />
<path d="M74.5,733.6 L236.4,733.6 Q241.5,733.6 241.6,739 L241.8,753" fill="none" stroke="#000" stroke-width="1.6" />
<path d="M74.5,733.6 Q69.4,733.6 69.4,739 L69.4,753" fill="none" stroke="#000" stroke-width="1.3" />
<path d="M241.8,753 Q245.2,778 242.7,824.4 L242.7,891.5" fill="none" stroke="#000" stroke-width="1.9" />
<path d="M69.6,753 Q65.8,785 69.2,828 L69.2,891.5" fill="none" stroke="#000" stroke-width="1.9" />
<line x1="68.6" y1="891.5" x2="243.3" y2="891.5" stroke="#000" stroke-width="1.6" />
<path d="M80,893.2 L81.5,895.4 L230,895.4 L231.5,893.2" fill="none" stroke="#000" stroke-width="1.0" />
<path d="M70.5,735.2 L93.5,735.2 Q97.4,735.2 97.4,739 L97.4,773.5 Q97.4,777.3 93.5,777.3 L70.5,777.3" fill="none" stroke="#222" stroke-width="1.1" />
<path d="M94.5,737 L94.5,772 Q94.5,775.1 91.5,775.1 L71.5,775.1" fill="none" stroke="#777" stroke-width="0.8" />
<path d="M70.5,804.1 L93.5,804.1 Q97.2,804.1 97.2,808 L97.2,885.5 Q97.2,889 93.7,889 L90.3,889 Q86.8,889 86.8,885.5 L86.8,864.5 Q86.8,862 84.3,862 L71,862" fill="none" stroke="#222" stroke-width="1.1" />
<path d="M94.6,806.5 L94.6,885 Q94.6,887 92.6,887 L91.2,887 Q89.2,887 89.2,885 L89.2,864 Q89.2,859.8 85,859.8 L71.5,859.8" fill="none" stroke="#777" stroke-width="0.8" />
<line x1="74.8" y1="862" x2="74.8" y2="890" stroke="#777" stroke-width="0.7" />
<path d="M240.1,735.2 L217.1,735.2 Q213.2,735.2 213.2,739 L213.2,773.5 Q213.2,777.3 217.1,777.3 L240.1,777.3" fill="none" stroke="#222" stroke-width="1.1" />
<path d="M216.1,737 L216.1,772 Q216.1,775.1 219.1,775.1 L239.1,775.1" fill="none" stroke="#777" stroke-width="0.8" />
<path d="M240.1,804.1 L217.1,804.1 Q213.4,804.1 213.4,808 L213.4,885.5 Q213.4,889 216.9,889 L220.3,889 Q223.8,889 223.8,885.5 L223.8,864.5 Q223.8,862 226.3,862 L239.6,862" fill="none" stroke="#222" stroke-width="1.1" />
<path d="M216.0,806.5 L216.0,885 Q216.0,887 218.0,887 L219.4,887 Q221.4,887 221.4,885 L221.4,864 Q221.4,859.8 225.6,859.8 L239.1,859.8" fill="none" stroke="#777" stroke-width="0.8" />
<line x1="235.8" y1="862" x2="235.8" y2="890" stroke="#777" stroke-width="0.7" />
<rect x="70" y="783.7" width="26.6" height="12.8" rx="4" fill="none" stroke="#666" stroke-width="1.0" />
<rect x="71.8" y="785.5" width="23.0" height="9.2" rx="3" fill="none" stroke="#999" stroke-width="0.8" />
<rect x="214" y="783.7" width="26.6" height="12.8" rx="4" fill="none" stroke="#666" stroke-width="1.0" />
<rect x="215.8" y="785.5" width="23.0" height="9.2" rx="3" fill="none" stroke="#999" stroke-width="0.8" />
<circle cx="78.6" cy="742.4" r="7.6" fill="none" stroke="#000" stroke-width="1.3" />
<circle cx="78.6" cy="742.4" r="3.9" fill="none" stroke="#000" stroke-width="1.3" />
<circle cx="78.6" cy="821.5" r="7.6" fill="none" stroke="#000" stroke-width="1.3" />
<circle cx="78.6" cy="821.5" r="3.9" fill="none" stroke="#000" stroke-width="1.3" />
<path d="M69.8,739.4 A9.9,9.9 0 1,0 82.6,733.4" fill="none" stroke="#555" stroke-width="1.0" />
<circle cx="78.6" cy="821.5" r="9.9" fill="none" stroke="#555" stroke-width="1.0" />
<circle cx="78.6" cy="763.9" r="5.85" fill="none" stroke="#000" stroke-width="2.0" />
<circle cx="78.6" cy="851.1" r="5.9" fill="none" stroke="#000" stroke-width="2.0" />
<circle cx="232.0" cy="742.4" r="7.6" fill="none" stroke="#000" stroke-width="1.3" />
<circle cx="232.0" cy="742.4" r="3.9" fill="none" stroke="#000" stroke-width="1.3" />
<circle cx="232.0" cy="821.5" r="7.6" fill="none" stroke="#000" stroke-width="1.3" />
<circle cx="232.0" cy="821.5" r="3.9" fill="none" stroke="#000" stroke-width="1.3" />
<path d="M240.8,739.4 A9.9,9.9 0 1,1 228.0,733.4" fill="none" stroke="#555" stroke-width="1.0" />
<circle cx="232.0" cy="821.5" r="9.9" fill="none" stroke="#555" stroke-width="1.0" />
<circle cx="232.0" cy="763.9" r="5.85" fill="none" stroke="#000" stroke-width="2.0" />
<circle cx="232.0" cy="851.1" r="5.9" fill="none" stroke="#000" stroke-width="2.0" />
<line x1="78.6" y1="743" x2="78.6" y2="758" stroke="#777" stroke-width="0.6" />
<line x1="232" y1="743" x2="232" y2="757" stroke="#777" stroke-width="0.6" />
<path d="M103.8,734.5 L103.8,772 Q103.8,777 108.8,777 L109.6,777 Q114.6,777 114.6,772 L114.6,734.5" fill="none" stroke="#666" stroke-width="1.0" />
<path d="M105.8,734.5 L105.8,771.5 Q105.8,775 109.3,775 L109.1,775 Q112.6,775 112.6,771.5 L112.6,734.5" fill="none" stroke="#999" stroke-width="0.8" />
<path d="M103.8,804.1 L103.8,884 Q103.8,889 108.8,889 L109.6,889 Q114.6,889 114.6,884 L114.6,804.1" fill="none" stroke="#666" stroke-width="1.0" />
<path d="M105.8,804.1 L105.8,883.5 Q105.8,887 109.3,887 L109.1,887 Q112.6,887 112.6,883.5 L112.6,804.1" fill="none" stroke="#999" stroke-width="0.8" />
<path d="M103.8,807.1 Q109.19999999999999,804.1 114.6,807.1" fill="none" stroke="#b5b5b5" stroke-width="0.7" />
<rect x="104.3" y="784.3" width="9.8" height="11.7" rx="3.5" fill="none" stroke="#666" stroke-width="1.0" />
<rect x="106.3" y="786.3" width="5.8" height="7.7" rx="2" fill="none" stroke="#999" stroke-width="0.8" />
<path d="M122.2,734.5 L122.2,772 Q122.2,777 127.2,777 L128.6,777 Q133.6,777 133.6,772 L133.6,734.5" fill="none" stroke="#666" stroke-width="1.0" />
<path d="M124.2,734.5 L124.2,771.5 Q124.2,775 127.7,775 L128.1,775 Q131.6,775 131.6,771.5 L131.6,734.5" fill="none" stroke="#999" stroke-width="0.8" />
<path d="M122.2,804.1 L122.2,884 Q122.2,889 127.2,889 L128.6,889 Q133.6,889 133.6,884 L133.6,804.1" fill="none" stroke="#666" stroke-width="1.0" />
<path d="M124.2,804.1 L124.2,883.5 Q124.2,887 127.7,887 L128.1,887 Q131.6,887 131.6,883.5 L131.6,804.1" fill="none" stroke="#999" stroke-width="0.8" />
<path d="M122.2,807.1 Q127.9,804.1 133.6,807.1" fill="none" stroke="#b5b5b5" stroke-width="0.7" />
<rect x="122.7" y="784.3" width="10.4" height="11.7" rx="3.5" fill="none" stroke="#666" stroke-width="1.0" />
<rect x="124.7" y="786.3" width="6.4" height="7.7" rx="2" fill="none" stroke="#999" stroke-width="0.8" />
<path d="M141.1,734.5 L141.1,772 Q141.1,777 146.1,777 L147.1,777 Q152.1,777 152.1,772 L152.1,734.5" fill="none" stroke="#666" stroke-width="1.0" />
<path d="M143.1,734.5 L143.1,771.5 Q143.1,775 146.6,775 L146.6,775 Q150.1,775 150.1,771.5 L150.1,734.5" fill="none" stroke="#999" stroke-width="0.8" />
<path d="M141.1,804.1 L141.1,884 Q141.1,889 146.1,889 L147.1,889 Q152.1,889 152.1,884 L152.1,804.1" fill="none" stroke="#666" stroke-width="1.0" />
<path d="M143.1,804.1 L143.1,883.5 Q143.1,887 146.6,887 L146.6,887 Q150.1,887 150.1,883.5 L150.1,804.1" fill="none" stroke="#999" stroke-width="0.8" />
<path d="M141.1,807.1 Q146.6,804.1 152.1,807.1" fill="none" stroke="#b5b5b5" stroke-width="0.7" />
<rect x="141.6" y="784.3" width="10.0" height="11.7" rx="3.5" fill="none" stroke="#666" stroke-width="1.0" />
<rect x="143.6" y="786.3" width="6.0" height="7.7" rx="2" fill="none" stroke="#999" stroke-width="0.8" />
<path d="M159.4,734.5 L159.4,772 Q159.4,777 164.4,777 L165.4,777 Q170.4,777 170.4,772 L170.4,734.5" fill="none" stroke="#666" stroke-width="1.0" />
<path d="M161.4,734.5 L161.4,771.5 Q161.4,775 164.9,775 L164.9,775 Q168.4,775 168.4,771.5 L168.4,734.5" fill="none" stroke="#999" stroke-width="0.8" />
<path d="M159.4,804.1 L159.4,884 Q159.4,889 164.4,889 L165.4,889 Q170.4,889 170.4,884 L170.4,804.1" fill="none" stroke="#666" stroke-width="1.0" />
<path d="M161.4,804.1 L161.4,883.5 Q161.4,887 164.9,887 L164.9,887 Q168.4,887 168.4,883.5 L168.4,804.1" fill="none" stroke="#999" stroke-width="0.8" />
<path d="M159.4,807.1 Q164.9,804.1 170.4,807.1" fill="none" stroke="#b5b5b5" stroke-width="0.7" />
<rect x="159.9" y="784.3" width="10.0" height="11.7" rx="3.5" fill="none" stroke="#666" stroke-width="1.0" />
<rect x="161.9" y="786.3" width="6.0" height="7.7" rx="2" fill="none" stroke="#999" stroke-width="0.8" />
<path d="M177.7,734.5 L177.7,772 Q177.7,777 182.7,777 L183.7,777 Q188.7,777 188.7,772 L188.7,734.5" fill="none" stroke="#666" stroke-width="1.0" />
<path d="M179.7,734.5 L179.7,771.5 Q179.7,775 183.2,775 L183.2,775 Q186.7,775 186.7,771.5 L186.7,734.5" fill="none" stroke="#999" stroke-width="0.8" />
<path d="M177.7,804.1 L177.7,884 Q177.7,889 182.7,889 L183.7,889 Q188.7,889 188.7,884 L188.7,804.1" fill="none" stroke="#666" stroke-width="1.0" />
<path d="M179.7,804.1 L179.7,883.5 Q179.7,887 183.2,887 L183.2,887 Q186.7,887 186.7,883.5 L186.7,804.1" fill="none" stroke="#999" stroke-width="0.8" />
<path d="M177.7,807.1 Q183.2,804.1 188.7,807.1" fill="none" stroke="#b5b5b5" stroke-width="0.7" />
<rect x="178.2" y="784.3" width="10.0" height="11.7" rx="3.5" fill="none" stroke="#666" stroke-width="1.0" />
<rect x="180.2" y="786.3" width="6.0" height="7.7" rx="2" fill="none" stroke="#999" stroke-width="0.8" />
<path d="M196,734.5 L196,772 Q196,777 201,777 L202,777 Q207,777 207,772 L207,734.5" fill="none" stroke="#666" stroke-width="1.0" />
<path d="M198,734.5 L198,771.5 Q198,775 201.5,775 L201.5,775 Q205,775 205,771.5 L205,734.5" fill="none" stroke="#999" stroke-width="0.8" />
<path d="M196,804.1 L196,884 Q196,889 201,889 L202,889 Q207,889 207,884 L207,804.1" fill="none" stroke="#666" stroke-width="1.0" />
<path d="M198,804.1 L198,883.5 Q198,887 201.5,887 L201.5,887 Q205,887 205,883.5 L205,804.1" fill="none" stroke="#999" stroke-width="0.8" />
<path d="M196,807.1 Q201.5,804.1 207,807.1" fill="none" stroke="#b5b5b5" stroke-width="0.7" />
<rect x="196.5" y="784.3" width="10.0" height="11.7" rx="3.5" fill="none" stroke="#666" stroke-width="1.0" />
<rect x="198.5" y="786.3" width="6.0" height="7.7" rx="2" fill="none" stroke="#999" stroke-width="0.8" />
<rect x="115.6" y="742.6" width="5.6" height="5.2" rx="0.5" fill="none" stroke="#8a8a8a" stroke-width="0.8" />
<rect x="153.1" y="742.6" width="5.3" height="5.2" rx="0.5" fill="none" stroke="#8a8a8a" stroke-width="0.8" />
<rect x="171.4" y="742.6" width="5.3" height="5.2" rx="0.5" fill="none" stroke="#8a8a8a" stroke-width="0.8" />
<rect x="189.7" y="742.6" width="5.3" height="5.2" rx="0.5" fill="none" stroke="#8a8a8a" stroke-width="0.8" />
<rect x="153.1" y="808.5" width="5.3" height="4.8" rx="0.5" fill="none" stroke="#8a8a8a" stroke-width="0.8" />
<rect x="171.4" y="808.5" width="5.3" height="4.8" rx="0.5" fill="none" stroke="#8a8a8a" stroke-width="0.8" />
<rect x="189.7" y="808.5" width="5.3" height="4.8" rx="0.5" fill="none" stroke="#8a8a8a" stroke-width="0.8" />
<rect x="115.6" y="749.4" width="5.6" height="4.1" rx="0.5" fill="none" stroke="#8a8a8a" stroke-width="0.8" />
<path d="M141,777 L141,810 M204.6,776 L204.6,810" fill="none" stroke="#777" stroke-width="0.9" />
<path d="M143.7,784 L143.7,803 M207.4,776 L207.4,808" fill="none" stroke="#999" stroke-width="0.7" />
<line x1="96.6" y1="777.8" x2="214" y2="777.8" stroke="#b5b5b5" stroke-width="0.5" />
<line x1="96.6" y1="802.5" x2="214" y2="802.5" stroke="#b5b5b5" stroke-width="0.5" />
<path d="M68.6,899.3 L98.4,899.3 L98.4,907.8 L68.6,907.8" fill="none" stroke="#000" stroke-width="1.5" />
<path d="M242.6,899.3 L212.6,899.3 L212.6,907.8 L242.6,907.8" fill="none" stroke="#000" stroke-width="1.5" />
<path d="M68.6,913.3 L98.4,913.3 L98.4,920.6 L68.6,920.6" fill="none" stroke="#000" stroke-width="1.5" />
<path d="M242.6,913.3 L212.6,913.3 L212.6,920.6 L242.6,920.6" fill="none" stroke="#000" stroke-width="1.5" />
<path d="M68.6,926.7 L98.4,926.7 L98.4,934.6 L68.6,934.6" fill="none" stroke="#000" stroke-width="1.5" />
<path d="M242.6,926.7 L212.6,926.7 L212.6,934.6 L242.6,934.6" fill="none" stroke="#000" stroke-width="1.5" />
<line x1="68.6" y1="891.5" x2="68.6" y2="1031" stroke="#000" stroke-width="1.4" />
<line x1="242.9" y1="891.5" x2="242.9" y2="1031" stroke="#000" stroke-width="1.4" />
<line x1="68.5" y1="942.5" x2="90.5" y2="942.5" stroke="#000" stroke-width="1.4" />
<line x1="87.7" y1="943.5" x2="87.7" y2="1031" stroke="#000" stroke-width="2.2" />
<line x1="90.5" y1="943.5" x2="90.5" y2="1031" stroke="#888" stroke-width="0.8" />
<line x1="74.2" y1="895.5" x2="74.2" y2="984" stroke="#999" stroke-width="0.7" />
<path d="M69,987.3 Q70,979 76,979 Q81.5,979 83.4,985 L83.4,1031" fill="none" stroke="#555" stroke-width="1.0" />
<line x1="69" y1="987.3" x2="83.4" y2="987.3" stroke="#999" stroke-width="0.7" />
<circle cx="79.2" cy="956.7" r="6.1" fill="none" stroke="#000" stroke-width="1.8" />
<line x1="242.1" y1="942.5" x2="220.1" y2="942.5" stroke="#000" stroke-width="1.4" />
<line x1="222.9" y1="943.5" x2="222.9" y2="1031" stroke="#000" stroke-width="2.2" />
<line x1="220.1" y1="943.5" x2="220.1" y2="1031" stroke="#888" stroke-width="0.8" />
<line x1="236.4" y1="895.5" x2="236.4" y2="984" stroke="#999" stroke-width="0.7" />
<path d="M241.6,987.3 Q240.6,979 234.6,979 Q229.1,979 227.2,985 L227.2,1031" fill="none" stroke="#555" stroke-width="1.0" />
<line x1="241.6" y1="987.3" x2="227.2" y2="987.3" stroke="#999" stroke-width="0.7" />
<circle cx="231.4" cy="956.7" r="6.1" fill="none" stroke="#000" stroke-width="1.8" />
<line x1="68.6" y1="1031.4" x2="242.9" y2="1031.4" stroke="#000" stroke-width="1.5" />
<line x1="70" y1="1028" x2="241.5" y2="1028" stroke="#8a8a8a" stroke-width="0.6" />
<rect x="102.3" y="906.1" width="107.6" height="114.9" rx="9" fill="none" stroke="#000" stroke-width="1.5" />
<path d="M102.3,975 Q102.3,985.2 112,985.2 L200,985.2 Q209.9,985.2 209.9,975" fill="none" stroke="#000" stroke-width="1.3" />
<g font-family="Liberation Sans, sans-serif" fill="#000" stroke="#000" stroke-width="0.45">
<text x="107.2" y="915.6" font-size="5.4" text-anchor="start" font-weight="bold" textLength="44.5" lengthAdjust="spacingAndGlyphs" >COGNEX CORPORATION</text>
<text x="107.2" y="920.4" font-size="5.4" text-anchor="start" font-weight="bold" textLength="50" lengthAdjust="spacingAndGlyphs" >REGULATORY MODEL 0000</text>
<text x="107.2" y="925.8" font-size="5.4" text-anchor="start" font-weight="bold" textLength="46.5" lengthAdjust="spacingAndGlyphs" >P/N: 821-0000-0000000 00</text>
<text x="107.2" y="931.7" font-size="5.4" text-anchor="start" font-weight="bold" textLength="39.5" lengthAdjust="spacingAndGlyphs" >S/N: 1A0000000000</text>
<text x="107.2" y="936.8" font-size="5.4" text-anchor="start" font-weight="bold" textLength="37" lengthAdjust="spacingAndGlyphs" >MAC: 000000000000</text>
<text x="107.2" y="942.7" font-size="5.4" text-anchor="start" font-weight="bold" textLength="42.5" lengthAdjust="spacingAndGlyphs" >CMIIT ID:0000000000(0)</text>
<text x="107.2" y="947.8" font-size="5.4" text-anchor="start" font-weight="bold" textLength="40" lengthAdjust="spacingAndGlyphs" >WWW.COGNEX.COM</text>
<text x="107.2" y="952.9" font-size="5.4" text-anchor="start" font-weight="bold" textLength="33" lengthAdjust="spacingAndGlyphs" >INPUT: 24VDC</text>
<text x="107.2" y="957.6" font-size="5.4" text-anchor="start" font-weight="bold" textLength="26" lengthAdjust="spacingAndGlyphs" >1.5A PEAK</text>
</g>
<rect x="154.3" y="926.3" width="21.2" height="22.7" rx="2.5" fill="none" stroke="#000" stroke-width="1.8" />
<path d="M165,930 Q160,931 160,935 Q160,938.5 165,938.5 Q170,938.5 170,942 Q170,946 165,946 Q160,946 160,942 Q160,938.5 165,938.5 Q170,938.5 170,935 Q170,931 165,930" fill="none" stroke="#000" stroke-width="1.6" />
<text x="165" y="924.5" font-size="3.5" text-anchor="middle" font-weight="bold" textLength="9" lengthAdjust="spacingAndGlyphs" >00000</text>
<circle cx="192.3" cy="941" r="7.5" fill="none" stroke="#000" stroke-width="1.8" />
<path d="M188.5,936 L188.5,944 L192,944 M192.5,936 L192.5,944 L196,944" fill="none" stroke="#000" stroke-width="1.3" />
<text x="181.5" y="943" font-size="4.5" text-anchor="middle" font-weight="bold" >c</text>
<text x="203.5" y="943" font-size="4.5" text-anchor="middle" font-weight="bold" >us</text>
<text x="192.3" y="953.5" font-size="4.5" text-anchor="middle" font-weight="bold" textLength="13" lengthAdjust="spacingAndGlyphs" >LISTED</text>
<text x="163" y="954" font-size="3.5" text-anchor="middle" font-weight="bold" textLength="9" lengthAdjust="spacingAndGlyphs" >00000</text>
<path d="M140,956.3 L140,953 L168,953 L168,956" fill="none" stroke="#000" stroke-width="0.8" />
<rect x="133.3" y="956.3" width="21.7" height="22.0" rx="0" fill="#111" stroke="#000" stroke-width="1.0" />
<rect x="137" y="960" width="1.5" height="1.5" rx="0" fill="#fff" stroke="#000" stroke-width="0" />
<rect x="141" y="963" width="1.5" height="1.5" rx="0" fill="#fff" stroke="#000" stroke-width="0" />
<rect x="146" y="959" width="1.5" height="1.5" rx="0" fill="#fff" stroke="#000" stroke-width="0" />
<rect x="149" y="962" width="1.5" height="1.5" rx="0" fill="#fff" stroke="#000" stroke-width="0" />
<rect x="136" y="969" width="1.5" height="1.5" rx="0" fill="#fff" stroke="#000" stroke-width="0" />
<rect x="143" y="971" width="1.5" height="1.5" rx="0" fill="#fff" stroke="#000" stroke-width="0" />
<rect x="150" y="968" width="1.5" height="1.5" rx="0" fill="#fff" stroke="#000" stroke-width="0" />
<rect x="139" y="975" width="1.5" height="1.5" rx="0" fill="#fff" stroke="#000" stroke-width="0" />
<rect x="147" y="974" width="1.5" height="1.5" rx="0" fill="#fff" stroke="#000" stroke-width="0" />
<rect x="152" y="976" width="1.5" height="1.5" rx="0" fill="#fff" stroke="#000" stroke-width="0" />
<path d="M160.5,958 L160.5,977 M163,958 L163,977" fill="none" stroke="#000" stroke-width="2.0" />
<path d="M169.5,958 L164,967.5 L169.5,977 M172,960 Q166,967.5 172,975" fill="none" stroke="#000" stroke-width="1.8" />
<path d="M187.2,959 Q175.5,958 175.5,968 Q175.5,978 187.2,977" fill="none" stroke="#000" stroke-width="2.6" />
<path d="M187.2,959 Q175.5,958 175.5,968 Q175.5,978 187.2,977" fill="none" stroke="#fff" stroke-width="1.0" />
<path d="M206,959 Q194.5,958 194.5,968 Q194.5,978 206,977 M195,968 L204,968" fill="none" stroke="#000" stroke-width="2.6" />
<path d="M206,959 Q194.5,958 194.5,968 Q194.5,978 206,977 M195,968 L204,968" fill="none" stroke="#fff" stroke-width="1.0" />
<text x="166" y="982.5" font-size="3.2" text-anchor="middle" font-weight="bold" textLength="20" lengthAdjust="spacingAndGlyphs" >00-000-0000000</text>
<path d="M85,1032 L86,1072.2 L142.8,1072.2 L143,1032" fill="none" stroke="#000" stroke-width="1.3" />
<line x1="98" y1="1072.4" x2="110" y2="1072.4" stroke="#000" stroke-width="1.6" />
<line x1="114" y1="1072.4" x2="128" y2="1072.4" stroke="#000" stroke-width="1.6" />
<path d="M143,1046.5 L170.4,1046.5 M143,1050 L170.4,1050 M143,1056.9 L172.4,1056.9" fill="none" stroke="#000" stroke-width="1.1" />
<line x1="143" y1="1052.5" x2="172" y2="1052.5" stroke="#8a8a8a" stroke-width="0.6" />
<path d="M170.4,1032 L170.4,1046.5 L223.8,1046.5 L223.8,1032" fill="none" stroke="#000" stroke-width="1.3" />
<path d="M174.5,1046.5 L174.5,1051.9 M219.5,1046.5 L219.5,1051.9" fill="none" stroke="#000" stroke-width="1.1" />
<rect x="173.7" y="1051.9" width="46.10" height="19.50" fill="#d8d8d8"/>
<path d="M173.7,1054.44 Q196.75,1053.66 219.8,1052.88" fill="none" stroke="#8a8a8a" stroke-width="1.755" />
<path d="M173.7,1053.07 Q196.75,1052.49 219.8,1052.10" fill="none" stroke="#f0f0f0" stroke-width="0.7" />
<path d="M173.7,1058.34 Q196.75,1057.56 219.8,1056.78" fill="none" stroke="#8a8a8a" stroke-width="1.755" />
<path d="M173.7,1056.97 Q196.75,1056.38 219.8,1055.99" fill="none" stroke="#f0f0f0" stroke-width="0.7" />
<path d="M173.7,1062.24 Q196.75,1061.46 219.8,1060.68" fill="none" stroke="#8a8a8a" stroke-width="1.755" />
<path d="M173.7,1060.87 Q196.75,1060.29 219.8,1059.89" fill="none" stroke="#f0f0f0" stroke-width="0.7" />
<path d="M173.7,1066.14 Q196.75,1065.36 219.8,1064.58" fill="none" stroke="#8a8a8a" stroke-width="1.755" />
<path d="M173.7,1064.77 Q196.75,1064.19 219.8,1063.80" fill="none" stroke="#f0f0f0" stroke-width="0.7" />
<path d="M173.7,1070.04 Q196.75,1069.26 219.8,1068.48" fill="none" stroke="#8a8a8a" stroke-width="1.755" />
<path d="M173.7,1068.67 Q196.75,1068.09 219.8,1067.69" fill="none" stroke="#f0f0f0" stroke-width="0.7" />
<path d="M173.7,1052.50 Q196.75,1052.20 219.8,1051.30" fill="none" stroke="#111" stroke-width="1.5" />
<path d="M174.2,1050.20 L171.5,1052.10 L174.2,1053.80 Z M219.3,1050.00 L222.0,1051.50 L219.3,1053.40 Z" fill="#111"/>
<path d="M173.7,1056.40 Q196.75,1056.10 219.8,1055.20" fill="none" stroke="#111" stroke-width="1.5" />
<path d="M174.2,1054.10 L171.5,1056.00 L174.2,1057.70 Z M219.3,1053.90 L222.0,1055.40 L219.3,1057.30 Z" fill="#111"/>
<path d="M173.7,1060.30 Q196.75,1060.00 219.8,1059.10" fill="none" stroke="#111" stroke-width="1.5" />
<path d="M174.2,1058.00 L171.5,1059.90 L174.2,1061.60 Z M219.3,1057.80 L222.0,1059.30 L219.3,1061.20 Z" fill="#111"/>
<path d="M173.7,1064.20 Q196.75,1063.90 219.8,1063.00" fill="none" stroke="#111" stroke-width="1.5" />
<path d="M174.2,1061.90 L171.5,1063.80 L174.2,1065.50 Z M219.3,1061.70 L222.0,1063.20 L219.3,1065.10 Z" fill="#111"/>
<path d="M173.7,1068.10 Q196.75,1067.80 219.8,1066.90" fill="none" stroke="#111" stroke-width="1.5" />
<path d="M174.2,1065.80 L171.5,1067.70 L174.2,1069.40 Z M219.3,1065.60 L222.0,1067.10 L219.3,1069.00 Z" fill="#111"/>
<path d="M173.7,1072.00 Q196.75,1071.70 219.8,1070.80" fill="none" stroke="#111" stroke-width="1.5" />
<path d="M174.2,1069.70 L171.5,1071.60 L174.2,1073.30 Z M219.3,1069.50 L222.0,1071.00 L219.3,1072.90 Z" fill="#111"/>
<line x1="173.7" y1="1051.9" x2="173.7" y2="1071.4" stroke="#222" stroke-width="1.0" />
<line x1="219.8" y1="1051.9" x2="219.8" y2="1071.4" stroke="#222" stroke-width="1.0" />
<path d="M174.6,1071.6 L174.6,1077 Q174.6,1078.9 176.5,1078.9 L217.1,1078.9 Q219,1078.9 219,1077 L219,1071.6" fill="none" stroke="#000" stroke-width="1.6" />
</svg>
</body></html>
